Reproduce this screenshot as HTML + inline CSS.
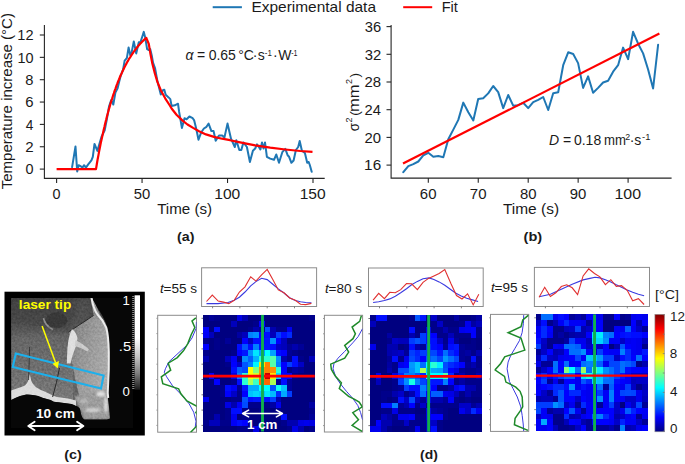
<!DOCTYPE html><html><head><meta charset="utf-8"><title>Figure</title><style>html,body{margin:0;padding:0;background:#fff;overflow:hidden}svg{display:block}text{font-family:"Liberation Sans",sans-serif}</style></head><body>
<svg width="685" height="464" viewBox="0 0 685 464">
<rect width="685" height="464" fill="#fff"/>
<line x1="212.7" y1="7.2" x2="241.9" y2="7.2" stroke="#1f77b4" stroke-width="2"/>
<text x="251.43" y="11.8" font-size="14.2" textLength="124.57" lengthAdjust="spacingAndGlyphs" fill="#1a1a1a">Experimental data</text>
<line x1="403.2" y1="7.2" x2="432.2" y2="7.2" stroke="#ff0000" stroke-width="2"/>
<text x="441.7" y="11.8" font-size="14.2" textLength="16.2" lengthAdjust="spacingAndGlyphs" fill="#1a1a1a">Fit</text>
<path d="M44.4 25 V178.4 H324.7" fill="none" stroke="#262626" stroke-width="1.1"/>
<line x1="39.8" y1="169.10" x2="44.4" y2="169.10" stroke="#262626" stroke-width="1.1"/>
<text x="25.44" y="174.3" font-size="13.8" textLength="8.03" lengthAdjust="spacingAndGlyphs" fill="#1a1a1a">0</text>
<line x1="39.8" y1="146.75" x2="44.4" y2="146.75" stroke="#262626" stroke-width="1.1"/>
<text x="25.24" y="151.95" font-size="13.8" textLength="8.42" lengthAdjust="spacingAndGlyphs" fill="#1a1a1a">2</text>
<line x1="39.8" y1="124.40" x2="44.4" y2="124.40" stroke="#262626" stroke-width="1.1"/>
<text x="25.69" y="129.6" font-size="13.8" textLength="7.62" lengthAdjust="spacingAndGlyphs" fill="#1a1a1a">4</text>
<line x1="39.8" y1="102.05" x2="44.4" y2="102.05" stroke="#262626" stroke-width="1.1"/>
<text x="25.24" y="107.25" font-size="13.8" textLength="8.32" lengthAdjust="spacingAndGlyphs" fill="#1a1a1a">6</text>
<line x1="39.8" y1="79.70" x2="44.4" y2="79.70" stroke="#262626" stroke-width="1.1"/>
<text x="25.36" y="84.9" font-size="13.8" textLength="8.18" lengthAdjust="spacingAndGlyphs" fill="#1a1a1a">8</text>
<line x1="39.8" y1="57.35" x2="44.4" y2="57.35" stroke="#262626" stroke-width="1.1"/>
<text x="17.4" y="62.55" font-size="13.8" textLength="16.06" lengthAdjust="spacingAndGlyphs" fill="#1a1a1a">10</text>
<line x1="39.8" y1="35.00" x2="44.4" y2="35.00" stroke="#262626" stroke-width="1.1"/>
<text x="17.39" y="40.2" font-size="13.8" textLength="16.25" lengthAdjust="spacingAndGlyphs" fill="#1a1a1a">12</text>
<line x1="56.60" y1="178.4" x2="56.60" y2="183" stroke="#262626" stroke-width="1.1"/>
<text x="52.59" y="198.8" font-size="13.8" textLength="8.03" lengthAdjust="spacingAndGlyphs" fill="#1a1a1a">0</text>
<line x1="142.06" y1="178.4" x2="142.06" y2="183" stroke="#262626" stroke-width="1.1"/>
<text x="133.82" y="198.8" font-size="13.8" textLength="16.47" lengthAdjust="spacingAndGlyphs" fill="#1a1a1a">50</text>
<line x1="227.53" y1="178.4" x2="227.53" y2="183" stroke="#262626" stroke-width="1.1"/>
<text x="214.24" y="198.8" font-size="13.8" textLength="26.0" lengthAdjust="spacingAndGlyphs" fill="#1a1a1a">100</text>
<line x1="313.00" y1="178.4" x2="313.00" y2="183" stroke="#262626" stroke-width="1.1"/>
<text x="299.71" y="198.8" font-size="13.8" textLength="26.0" lengthAdjust="spacingAndGlyphs" fill="#1a1a1a">150</text>
<text x="157.16" y="214.3" font-size="14.2" textLength="54.97" lengthAdjust="spacingAndGlyphs" fill="#1a1a1a">Time (s)</text>
<text x="176.99" y="240.6" font-size="12.6" font-weight="bold" textLength="17.42" lengthAdjust="spacingAndGlyphs" fill="#1a1a1a">(a)</text>
<text transform="translate(11.9,189.0) rotate(-90)" x="-0.33" y="0" font-size="14.2" textLength="176.26" lengthAdjust="spacingAndGlyphs" fill="#1a1a1a">Temperature increase (°C)</text>
<text x="185.42" y="60.1" font-size="14" font-style="italic" fill="#1a1a1a">α</text>
<text x="196.92" y="60.1" font-size="14" fill="#1a1a1a">=</text>
<text x="208.65" y="60.1" font-size="14" fill="#1a1a1a">0.65</text>
<text x="238.17" y="60.1" font-size="14" fill="#1a1a1a">°C</text>
<text x="252.64" y="60.1" font-size="14" fill="#1a1a1a">·</text>
<text x="257.81" y="60.1" font-size="14" fill="#1a1a1a">s</text>
<text x="264.85" y="55.8" font-size="8.8" textLength="7.04" lengthAdjust="spacingAndGlyphs" fill="#1a1a1a">-1</text>
<text x="273.04" y="60.1" font-size="14" fill="#1a1a1a">·</text>
<text x="278.14" y="60.1" font-size="14" fill="#1a1a1a">W</text>
<text x="291.19" y="55.8" font-size="8.8" textLength="6.26" lengthAdjust="spacingAndGlyphs" fill="#1a1a1a">-1</text>
<polyline points="72.1,167.2 75.5,146.5 77.2,171.5 78.6,165.2 81.0,166.4 82.4,167.6 84.1,165.2 85.9,167.6 88.4,164.1 91.4,160.3 92.8,156.9 94.5,144.0 97.4,150.9 101.5,136.7 104.7,130.3 106.8,119.5 109.0,106.6 111.1,100.2 113.3,104.5 115.4,92.6 117.6,88.3 119.1,81.9 120.8,75.4 123.0,70.0 124.7,60.4 125.7,59.5 126.9,57.8 128.6,47.4 130.3,55.2 131.6,52.6 133.8,41.4 136.2,53.4 138.8,42.2 140.5,42.0 142.4,36.2 143.8,31.9 145.3,37.9 147.1,49.1 148.8,50.0 150.2,49.1 151.7,55.2 153.1,62.9 155.0,68.0 157.5,81.6 160.8,94.5 162.6,90.5 164.3,89.7 165.7,94.8 168.6,97.4 170.3,99.1 171.6,106.0 174.8,105.3 178.0,103.7 179.1,111.7 181.9,127.9 184.5,118.2 186.6,119.3 189.4,116.5 192.7,118.2 194.2,120.4 196.3,129.0 198.5,139.7 201.3,132.2 203.9,128.5 206.5,126.8 208.6,123.6 211.4,131.1 213.6,131.1 215.7,140.8 219.0,135.4 222.2,135.4 224.4,137.6 227.5,123.6 231.0,138.7 234.8,147.0 236.3,140.2 239.3,150.0 241.3,150.0 243.4,142.4 246.9,147.0 249.9,162.0 252.9,150.7 255.2,148.5 257.0,144.4 258.9,147.0 260.4,149.5 262.0,142.4 263.5,148.5 265.0,142.4 266.9,156.8 270.2,158.6 274.0,159.8 276.3,154.5 279.0,162.8 282.3,152.2 285.3,148.9 287.6,155.2 289.1,156.8 291.4,162.8 293.6,160.5 295.9,150.0 298.2,147.0 299.7,140.9 301.9,150.7 304.9,153.0 307.2,162.8 308.7,162.0 309.8,165.0 311.7,171.8" fill="none" stroke="#1f77b4" stroke-width="2" stroke-linejoin="round" stroke-linecap="round"/>
<polyline points="56.6,169.1 96.0,169.1 96.8,164.2 97.6,159.5 98.5,154.9 99.3,150.4 100.2,146.1 101.0,141.9 101.9,137.9 102.8,134.0 103.6,130.2 104.5,126.6 105.3,123.0 106.2,119.6 107.0,116.2 107.9,113.0 108.7,109.9 109.6,106.9 110.4,104.0 111.3,101.1 112.2,98.4 113.0,95.7 113.9,93.2 114.7,90.7 115.6,88.3 116.4,85.9 117.3,83.7 118.1,81.5 119.0,79.4 119.8,77.3 120.7,75.3 121.6,73.4 122.4,71.6 123.3,69.8 124.1,68.0 125.0,66.3 125.8,64.7 126.7,63.1 127.5,61.6 128.4,60.1 129.2,58.6 130.1,57.3 131.0,55.9 131.8,54.6 132.7,53.3 133.5,52.1 134.4,50.9 135.2,49.8 136.1,48.7 136.9,47.6 137.8,46.6 138.6,45.5 139.5,44.6 140.4,43.6 141.2,42.7 142.1,41.8 142.9,41.0 143.8,40.1 144.6,39.3 145.5,38.5 146.3,37.8 148.8,44.0 150.5,54.3 152.2,62.9 154.8,73.3 157.4,81.9 160.9,90.5 165.2,98.3 169.5,105.0 171.6,108.5 176.5,114.8 182.3,120.4 187.5,124.5 193.1,127.9 199.0,131.2 206.0,134.4 214.0,136.9 222.0,138.7 230.0,140.2 240.1,142.4 255.2,145.4 270.2,147.7 285.3,149.5 300.4,151.0 312.5,151.9" fill="none" stroke="#ff0000" stroke-width="2.2" stroke-linejoin="round"/>
<path d="M391.1 25 V178.1 H671.6" fill="none" stroke="#262626" stroke-width="1.1"/>
<line x1="386.5" y1="165.10" x2="391.1" y2="165.10" stroke="#262626" stroke-width="1.1"/>
<text x="364.13" y="170.3" font-size="13.8" textLength="17.04" lengthAdjust="spacingAndGlyphs" fill="#1a1a1a">16</text>
<line x1="386.5" y1="137.40" x2="391.1" y2="137.40" stroke="#262626" stroke-width="1.1"/>
<text x="364.55" y="142.6" font-size="13.8" textLength="16.53" lengthAdjust="spacingAndGlyphs" fill="#1a1a1a">20</text>
<line x1="386.5" y1="109.70" x2="391.1" y2="109.70" stroke="#262626" stroke-width="1.1"/>
<text x="364.56" y="114.9" font-size="13.8" textLength="16.37" lengthAdjust="spacingAndGlyphs" fill="#1a1a1a">24</text>
<line x1="386.5" y1="82.00" x2="391.1" y2="82.00" stroke="#262626" stroke-width="1.1"/>
<text x="364.55" y="87.2" font-size="13.8" textLength="16.6" lengthAdjust="spacingAndGlyphs" fill="#1a1a1a">28</text>
<line x1="386.5" y1="54.30" x2="391.1" y2="54.30" stroke="#262626" stroke-width="1.1"/>
<text x="364.73" y="59.5" font-size="13.8" textLength="16.51" lengthAdjust="spacingAndGlyphs" fill="#1a1a1a">32</text>
<line x1="386.5" y1="26.60" x2="391.1" y2="26.60" stroke="#262626" stroke-width="1.1"/>
<text x="364.74" y="31.8" font-size="13.8" textLength="16.41" lengthAdjust="spacingAndGlyphs" fill="#1a1a1a">36</text>
<line x1="428.30" y1="178.1" x2="428.30" y2="182.7" stroke="#262626" stroke-width="1.1"/>
<text x="419.89" y="198.8" font-size="13.8" textLength="16.64" lengthAdjust="spacingAndGlyphs" fill="#1a1a1a">60</text>
<line x1="478.25" y1="178.1" x2="478.25" y2="182.7" stroke="#262626" stroke-width="1.1"/>
<text x="469.83" y="198.8" font-size="13.8" textLength="16.65" lengthAdjust="spacingAndGlyphs" fill="#1a1a1a">70</text>
<line x1="528.20" y1="178.1" x2="528.20" y2="182.7" stroke="#262626" stroke-width="1.1"/>
<text x="519.9" y="198.8" font-size="13.8" textLength="16.53" lengthAdjust="spacingAndGlyphs" fill="#1a1a1a">80</text>
<line x1="578.15" y1="178.1" x2="578.15" y2="182.7" stroke="#262626" stroke-width="1.1"/>
<text x="569.8" y="198.8" font-size="13.8" textLength="16.58" lengthAdjust="spacingAndGlyphs" fill="#1a1a1a">90</text>
<line x1="628.10" y1="178.1" x2="628.10" y2="182.7" stroke="#262626" stroke-width="1.1"/>
<text x="614.54" y="198.8" font-size="13.8" textLength="26.53" lengthAdjust="spacingAndGlyphs" fill="#1a1a1a">100</text>
<text x="502.96" y="214.0" font-size="14.2" textLength="56.09" lengthAdjust="spacingAndGlyphs" fill="#1a1a1a">Time (s)</text>
<text x="523.57" y="240.9" font-size="12.6" font-weight="bold" textLength="18.66" lengthAdjust="spacingAndGlyphs" fill="#1a1a1a">(b)</text>
<g transform="translate(358.6,131.2) rotate(-90)">
<text x="-0.05" y="0" font-size="14.2" textLength="8.15" lengthAdjust="spacingAndGlyphs" fill="#1a1a1a">σ</text>
<text x="8.65" y="-6.4" font-size="9.0" fill="#1a1a1a">2</text>
<text x="15.36" y="0" font-size="13.6" fill="#1a1a1a">(</text>
<text x="19.3" y="0" font-size="14.2" textLength="27.48" lengthAdjust="spacingAndGlyphs" fill="#1a1a1a">mm</text>
<text x="47.15" y="-6.4" font-size="9.0" fill="#1a1a1a">2</text>
<text x="53.82" y="0" font-size="13.6" fill="#1a1a1a">)</text>
</g>
<text x="548.97" y="144.6" font-size="14" font-style="italic" fill="#1a1a1a">D</text>
<text x="563.02" y="144.6" font-size="14" fill="#1a1a1a">=</text>
<text x="573.95" y="144.6" font-size="14" fill="#1a1a1a">0.18</text>
<text x="603.93" y="144.6" font-size="14" textLength="21.94" lengthAdjust="spacingAndGlyphs" fill="#1a1a1a">mm</text>
<text x="625.36" y="140.3" font-size="8.8" fill="#1a1a1a">2</text>
<text x="629.64" y="144.6" font-size="14" fill="#1a1a1a">·</text>
<text x="634.21" y="144.6" font-size="14" fill="#1a1a1a">s</text>
<text x="642.08" y="140.3" font-size="8.8" textLength="8.38" lengthAdjust="spacingAndGlyphs" fill="#1a1a1a">-1</text>
<polyline points="403.3,172.2 408.3,166.2 413.3,164.1 418.3,161.5 423.3,155.4 428.3,152.8 433.3,156.7 438.3,156.1 443.3,157.2 448.3,139.3 453.3,129.6 458.3,119.9 463.3,102.6 468.3,112.3 473.3,120.5 478.2,99.0 483.2,98.3 488.2,93.4 493.2,86.0 498.2,92.1 503.2,108.1 508.2,95.0 513.2,105.7 518.2,105.2 523.2,102.8 528.2,108.1 533.2,102.1 538.2,99.9 543.2,97.0 548.2,110.0 553.2,93.2 558.2,92.2 563.2,65.2 568.2,52.3 573.2,54.0 578.1,63.1 583.1,87.9 588.1,76.4 593.1,92.8 598.1,87.9 603.1,82.5 608.1,80.7 613.1,71.7 618.1,65.2 623.1,47.6 628.1,59.2 633.1,31.8 638.1,43.7 643.1,53.4 648.1,69.5 653.1,88.5 658.1,44.8" fill="none" stroke="#1f77b4" stroke-width="2" stroke-linejoin="round" stroke-linecap="round"/>
<line x1="403.0" y1="163.6" x2="659.4" y2="33.6" stroke="#ff0000" stroke-width="2.2"/>
<rect x="4.5" y="291.7" width="140.3" height="143.8" fill="#000"/>
<defs><filter id="nz" x="0" y="0" width="100%" height="100%" color-interpolation-filters="sRGB"><feTurbulence type="fractalNoise" baseFrequency="0.45" numOctaves="2" seed="7"/><feColorMatrix type="matrix" values="1 0 0 0 0  1 0 0 0 0  1 0 0 0 0  0 0 0 0 1"/></filter><filter id="hblur" x="0" y="0" width="1" height="1"><feGaussianBlur stdDeviation="0.45" edgeMode="duplicate"/></filter><filter id="blur1"><feGaussianBlur stdDeviation="1.2"/></filter><filter id="blur05"><feGaussianBlur stdDeviation="0.4"/></filter><filter id="blur2"><feGaussianBlur stdDeviation="2.5"/></filter><linearGradient id="cbg" x1="0" y1="0" x2="0" y2="1"><stop offset="0" stop-color="#fff"/><stop offset="0.45" stop-color="#fff"/><stop offset="0.65" stop-color="#c4c4c4"/><stop offset="0.82" stop-color="#808080"/><stop offset="1" stop-color="#1a1a1a"/></linearGradient><linearGradient id="topdark" x1="0" y1="0" x2="0" y2="1"><stop offset="0" stop-color="#000" stop-opacity="0.45"/><stop offset="0.5" stop-color="#000" stop-opacity="0.3"/><stop offset="1" stop-color="#000" stop-opacity="0"/></linearGradient><linearGradient id="lowlight" x1="0" y1="0" x2="0" y2="1"><stop offset="0" stop-color="#fff" stop-opacity="0"/><stop offset="1" stop-color="#fff" stop-opacity="0.14"/></linearGradient><linearGradient id="rmus" x1="0" y1="0" x2="1" y2="0.6"><stop offset="0" stop-color="#7c7c7c"/><stop offset="0.5" stop-color="#979797"/><stop offset="1" stop-color="#acacac"/></linearGradient></defs>
<rect x="11" y="298" width="122" height="130" fill="#070707"/>
<clipPath id="tclip"><path d="M11 298 L91.7 298 C95 303 98.8 310 101.5 314 C105 320 107.5 326 108.3 331.3 C109.3 340 109.5 350 109.5 358 C109.5 370 109 380 108.4 386 C107.5 390 106.8 392 107.5 395 C108.5 402 109.5 410 110 418.6 L106.8 419.4 L84.3 419.4 C82.5 418.6 81.6 416 81.1 414.5 C80.5 411 80 409 79.5 408.1 C78 406.5 76.5 406 75.5 405.7 C73.5 404.8 72 404.3 71.4 404.1 L60.2 402.5 L53.8 401.7 C52.5 401 51.5 400.4 50.6 400.1 L42.5 397.7 C39.5 396.5 37 395.6 34.5 395.3 C31.5 394.7 29 394.4 26.5 394.5 C24 395 22 395.5 20.1 396.1 C16.5 397.5 13.5 399 11.2 400.1 Z"/></clipPath>
<g clip-path="url(#tclip)">
<path d="M11 298 L91.7 298 C95 303 98.8 310 101.5 314 C105 320 107.5 326 108.3 331.3 C109.3 340 109.5 350 109.5 358 C109.5 370 109 380 108.4 386 C107.5 390 106.8 392 107.5 395 C108.5 402 109.5 410 110 418.6 L106.8 419.4 L84.3 419.4 C82.5 418.6 81.6 416 81.1 414.5 C80.5 411 80 409 79.5 408.1 C78 406.5 76.5 406 75.5 405.7 C73.5 404.8 72 404.3 71.4 404.1 L60.2 402.5 L53.8 401.7 C52.5 401 51.5 400.4 50.6 400.1 L42.5 397.7 C39.5 396.5 37 395.6 34.5 395.3 C31.5 394.7 29 394.4 26.5 394.5 C24 395 22 395.5 20.1 396.1 C16.5 397.5 13.5 399 11.2 400.1 Z" fill="#636363"/>
<rect x="11" y="330" width="62" height="72" fill="url(#lowlight)"/>
<rect x="11" y="298" width="100" height="40" fill="url(#topdark)"/>
<g filter="url(#blur2)"><path d="M11 298 H74 L76 312 L69 331.5 L60 331 L45 328 L30 324 L11 321 Z" fill="#464646" opacity="0.7"/><path d="M74 298 H91.5 L93.5 312 L93.6 315.5 L69 331.5 L76 312 Z" fill="#545454" opacity="0.7"/></g>
<g filter="url(#blur05)"><ellipse cx="56.6" cy="320.2" rx="10.8" ry="8" fill="#383838"/></g>
<path d="M43.5 318 Q45 326 53 329.5" fill="none" stroke="#8a8a8a" stroke-width="1.6" filter="url(#blur05)"/>
<g filter="url(#blur05)"><path d="M90.5 298 H93 Q96 306 101.7 318 L93.6 315.5 Q92 306 90.5 298 Z" fill="#8e8e8e"/></g>
<g filter="url(#blur05)"><path d="M69 331.5 L93.6 315.5 L101.7 317.8 Q105 323 107.5 333 Q108.5 345 108.5 360 Q108.3 378 107 392 Q95 396 80 399 Q75 380 72 362 Q70 345 69 331.5 Z" fill="url(#rmus)"/></g>
<path d="M68.5 332 L93.6 315.5" fill="none" stroke="#2a2a2a" stroke-width="1"/>
<g filter="url(#blur1)"><path d="M75 396 Q92 392 108 390 L110 419.4 L84 419.4 Q81 412 79 407 Q77 402 75 400 Z" fill="#9c9c9c"/><ellipse cx="101" cy="394" rx="4.5" ry="2.5" fill="#e0e0e0"/><ellipse cx="93" cy="410" rx="8" ry="2" fill="#cfcfcf"/><ellipse cx="106" cy="405" rx="2" ry="8" fill="#d8d8d8"/><ellipse cx="84" cy="401" rx="4" ry="1.5" fill="#c0c0c0"/></g>
<g filter="url(#blur05)" opacity="0.95"><path d="M72 329 Q76 332 77.5 338 Q77 345 74.5 350 Q72 356 70.5 363.5 L66.8 363.5 Q67 355 67.5 348 Q68 338 72 329 Z" fill="#e4e4e4"/><path d="M75.5 340 Q82 343 89 349.5 L87.5 351.5 Q81 347.5 75 346 Z" fill="#cdcdcd"/></g>
<path d="M11 390.5 C14 389.5 16 388.7 18.5 388 C21 387.2 23 386.5 24.9 385.6 C26.5 384 27.5 382.5 28.1 380.8 L29.7 374 L31.3 380.8 C32.5 383.5 34 385.5 36.1 387.2 C39 389.2 41.5 390.2 44.1 391.3 C47 392.6 49.5 394 52.2 395.3 L57 396.9 L68.2 398.5 L76 400.5 L76 406 L71.4 404.1 L60.2 402.5 L53.8 401.7 L50.6 400.1 L42.5 397.7 L34.5 395.3 L26.5 394.5 L20.1 396.1 L11.2 400.1 Z" fill="#dcdcdc"/>
<path d="M59.5 368 Q57 382 52.6 397" fill="none" stroke="#1e1e1e" stroke-width="0.9"/>
<path d="M28.6 380 Q29.2 362 29.6 347" fill="none" stroke="#333" stroke-width="0.9"/>
<rect x="11" y="298" width="100" height="122" filter="url(#nz)" opacity="0.22" style="mix-blend-mode:overlay"/>
</g>
<path d="M91.6 298.2 C92.6 304 94 310 97.5 314.5 C101 318 104 322 106.2 327.5 C108 334 108.6 342 108.8 352 C109 365 108.6 378 108 387 C107.6 391 107.6 394 108.2 398" fill="none" stroke="#ececec" stroke-width="2" filter="url(#blur05)"/>
<rect x="134.6" y="295.3" width="5.4" height="94.5" fill="url(#cbg)"/>
<line x1="133.3" y1="296" x2="133.3" y2="389" stroke="#8a8a8a" stroke-width="2.2" stroke-dasharray="0.9 1.1"/>
<text x="122.59" y="304.8" font-size="13.2" fill="#fff">1</text>
<text x="118.86" y="350.5" font-size="13.2" textLength="12.26" lengthAdjust="spacingAndGlyphs" fill="#fff">.5</text>
<text x="122.48" y="395.7" font-size="13.2" fill="#fff">0</text>
<polygon points="15.8,353.5 103.6,375.5 101,388.5 12.8,367" fill="none" stroke="#1cb0ec" stroke-width="2.1" stroke-linejoin="miter"/>
<line x1="42.1" y1="325.9" x2="55.6" y2="362.8" stroke="#ffff00" stroke-width="1.5"/>
<polygon points="57.8,368.6 52.5,363.7 59,360.9" fill="#ffff00"/>
<text x="18.85" y="309.1" font-size="13.0" font-weight="bold" textLength="52.41" lengthAdjust="spacingAndGlyphs" fill="#ffff00">laser tip</text>
<text x="35.94" y="418.2" font-size="12.2" font-weight="bold" textLength="38.92" lengthAdjust="spacingAndGlyphs" fill="#fff">10 cm</text>
<path d="M28.5 426 H83.2 M34.6 421.8 L28.3 426 L34.6 430.2 M77.1 421.8 L83.4 426 L77.1 430.2" fill="none" stroke="#fff" stroke-width="1.9" stroke-linecap="round" stroke-linejoin="round"/>
<text x="64.18" y="459.1" font-size="12.6" font-weight="bold" textLength="17.64" lengthAdjust="spacingAndGlyphs" fill="#1a1a1a">(c)</text>
<g shape-rendering="crispEdges" filter="url(#hblur)">
<rect x="203.10" y="314.90" width="5.88" height="6.13" fill="#000080"/>
<rect x="208.69" y="314.90" width="5.88" height="6.13" fill="#000097"/>
<rect x="214.27" y="314.90" width="5.88" height="6.13" fill="#00008b"/>
<rect x="219.85" y="314.90" width="5.88" height="6.13" fill="#000080"/>
<rect x="225.44" y="314.90" width="5.88" height="6.13" fill="#000080"/>
<rect x="231.03" y="314.90" width="5.88" height="6.13" fill="#000080"/>
<rect x="236.61" y="314.90" width="5.88" height="6.13" fill="#0000e5"/>
<rect x="242.19" y="314.90" width="5.88" height="6.13" fill="#0000af"/>
<rect x="247.78" y="314.90" width="5.88" height="6.13" fill="#000080"/>
<rect x="253.37" y="314.90" width="5.88" height="6.13" fill="#000080"/>
<rect x="258.95" y="314.90" width="5.88" height="6.13" fill="#00008b"/>
<rect x="264.53" y="314.90" width="5.88" height="6.13" fill="#000080"/>
<rect x="270.12" y="314.90" width="5.88" height="6.13" fill="#000080"/>
<rect x="275.70" y="314.90" width="5.88" height="6.13" fill="#000080"/>
<rect x="281.29" y="314.90" width="5.88" height="6.13" fill="#000080"/>
<rect x="286.88" y="314.90" width="5.88" height="6.13" fill="#000080"/>
<rect x="292.46" y="314.90" width="5.88" height="6.13" fill="#000080"/>
<rect x="298.04" y="314.90" width="5.88" height="6.13" fill="#000080"/>
<rect x="303.63" y="314.90" width="5.88" height="6.13" fill="#000080"/>
<rect x="309.21" y="314.90" width="5.88" height="6.13" fill="#00008b"/>
<rect x="203.10" y="320.73" width="5.88" height="6.13" fill="#000080"/>
<rect x="208.69" y="320.73" width="5.88" height="6.13" fill="#000080"/>
<rect x="214.27" y="320.73" width="5.88" height="6.13" fill="#000080"/>
<rect x="219.85" y="320.73" width="5.88" height="6.13" fill="#000080"/>
<rect x="225.44" y="320.73" width="5.88" height="6.13" fill="#000080"/>
<rect x="231.03" y="320.73" width="5.88" height="6.13" fill="#0000bb"/>
<rect x="236.61" y="320.73" width="5.88" height="6.13" fill="#000080"/>
<rect x="242.19" y="320.73" width="5.88" height="6.13" fill="#000080"/>
<rect x="247.78" y="320.73" width="5.88" height="6.13" fill="#000080"/>
<rect x="253.37" y="320.73" width="5.88" height="6.13" fill="#00008b"/>
<rect x="258.95" y="320.73" width="5.88" height="6.13" fill="#0000ff"/>
<rect x="264.53" y="320.73" width="5.88" height="6.13" fill="#000080"/>
<rect x="270.12" y="320.73" width="5.88" height="6.13" fill="#000080"/>
<rect x="275.70" y="320.73" width="5.88" height="6.13" fill="#000080"/>
<rect x="281.29" y="320.73" width="5.88" height="6.13" fill="#000080"/>
<rect x="286.88" y="320.73" width="5.88" height="6.13" fill="#000080"/>
<rect x="292.46" y="320.73" width="5.88" height="6.13" fill="#000080"/>
<rect x="298.04" y="320.73" width="5.88" height="6.13" fill="#000080"/>
<rect x="303.63" y="320.73" width="5.88" height="6.13" fill="#000080"/>
<rect x="309.21" y="320.73" width="5.88" height="6.13" fill="#000080"/>
<rect x="203.10" y="326.56" width="5.88" height="6.13" fill="#0000ff"/>
<rect x="208.69" y="326.56" width="5.88" height="6.13" fill="#000080"/>
<rect x="214.27" y="326.56" width="5.88" height="6.13" fill="#0008ff"/>
<rect x="219.85" y="326.56" width="5.88" height="6.13" fill="#000080"/>
<rect x="225.44" y="326.56" width="5.88" height="6.13" fill="#000080"/>
<rect x="231.03" y="326.56" width="5.88" height="6.13" fill="#000080"/>
<rect x="236.61" y="326.56" width="5.88" height="6.13" fill="#000080"/>
<rect x="242.19" y="326.56" width="5.88" height="6.13" fill="#000080"/>
<rect x="247.78" y="326.56" width="5.88" height="6.13" fill="#00008b"/>
<rect x="253.37" y="326.56" width="5.88" height="6.13" fill="#0000af"/>
<rect x="258.95" y="326.56" width="5.88" height="6.13" fill="#000097"/>
<rect x="264.53" y="326.56" width="5.88" height="6.13" fill="#004cff"/>
<rect x="270.12" y="326.56" width="5.88" height="6.13" fill="#0000af"/>
<rect x="275.70" y="326.56" width="5.88" height="6.13" fill="#00008b"/>
<rect x="281.29" y="326.56" width="5.88" height="6.13" fill="#00008b"/>
<rect x="286.88" y="326.56" width="5.88" height="6.13" fill="#0000ee"/>
<rect x="292.46" y="326.56" width="5.88" height="6.13" fill="#000080"/>
<rect x="298.04" y="326.56" width="5.88" height="6.13" fill="#000080"/>
<rect x="303.63" y="326.56" width="5.88" height="6.13" fill="#000080"/>
<rect x="309.21" y="326.56" width="5.88" height="6.13" fill="#000080"/>
<rect x="203.10" y="332.39" width="5.88" height="6.13" fill="#0000f6"/>
<rect x="208.69" y="332.39" width="5.88" height="6.13" fill="#0000bb"/>
<rect x="214.27" y="332.39" width="5.88" height="6.13" fill="#000080"/>
<rect x="219.85" y="332.39" width="5.88" height="6.13" fill="#000080"/>
<rect x="225.44" y="332.39" width="5.88" height="6.13" fill="#000080"/>
<rect x="231.03" y="332.39" width="5.88" height="6.13" fill="#000080"/>
<rect x="236.61" y="332.39" width="5.88" height="6.13" fill="#0000a3"/>
<rect x="242.19" y="332.39" width="5.88" height="6.13" fill="#0000bb"/>
<rect x="247.78" y="332.39" width="5.88" height="6.13" fill="#0080ff"/>
<rect x="253.37" y="332.39" width="5.88" height="6.13" fill="#0090ff"/>
<rect x="258.95" y="332.39" width="5.88" height="6.13" fill="#0000ff"/>
<rect x="264.53" y="332.39" width="5.88" height="6.13" fill="#0008ff"/>
<rect x="270.12" y="332.39" width="5.88" height="6.13" fill="#0000bb"/>
<rect x="275.70" y="332.39" width="5.88" height="6.13" fill="#003cff"/>
<rect x="281.29" y="332.39" width="5.88" height="6.13" fill="#0008ff"/>
<rect x="286.88" y="332.39" width="5.88" height="6.13" fill="#002aff"/>
<rect x="292.46" y="332.39" width="5.88" height="6.13" fill="#000080"/>
<rect x="298.04" y="332.39" width="5.88" height="6.13" fill="#000080"/>
<rect x="303.63" y="332.39" width="5.88" height="6.13" fill="#000080"/>
<rect x="309.21" y="332.39" width="5.88" height="6.13" fill="#000080"/>
<rect x="203.10" y="338.22" width="5.88" height="6.13" fill="#00008b"/>
<rect x="208.69" y="338.22" width="5.88" height="6.13" fill="#000080"/>
<rect x="214.27" y="338.22" width="5.88" height="6.13" fill="#00008b"/>
<rect x="219.85" y="338.22" width="5.88" height="6.13" fill="#000080"/>
<rect x="225.44" y="338.22" width="5.88" height="6.13" fill="#000097"/>
<rect x="231.03" y="338.22" width="5.88" height="6.13" fill="#000080"/>
<rect x="236.61" y="338.22" width="5.88" height="6.13" fill="#000080"/>
<rect x="242.19" y="338.22" width="5.88" height="6.13" fill="#0000ff"/>
<rect x="247.78" y="338.22" width="5.88" height="6.13" fill="#0000bb"/>
<rect x="253.37" y="338.22" width="5.88" height="6.13" fill="#0011ff"/>
<rect x="258.95" y="338.22" width="5.88" height="6.13" fill="#0008ff"/>
<rect x="264.53" y="338.22" width="5.88" height="6.13" fill="#0019ff"/>
<rect x="270.12" y="338.22" width="5.88" height="6.13" fill="#0090ff"/>
<rect x="275.70" y="338.22" width="5.88" height="6.13" fill="#0000ff"/>
<rect x="281.29" y="338.22" width="5.88" height="6.13" fill="#0000bb"/>
<rect x="286.88" y="338.22" width="5.88" height="6.13" fill="#000080"/>
<rect x="292.46" y="338.22" width="5.88" height="6.13" fill="#000080"/>
<rect x="298.04" y="338.22" width="5.88" height="6.13" fill="#000080"/>
<rect x="303.63" y="338.22" width="5.88" height="6.13" fill="#000080"/>
<rect x="309.21" y="338.22" width="5.88" height="6.13" fill="#000080"/>
<rect x="203.10" y="344.05" width="5.88" height="6.13" fill="#0000ff"/>
<rect x="208.69" y="344.05" width="5.88" height="6.13" fill="#000080"/>
<rect x="214.27" y="344.05" width="5.88" height="6.13" fill="#00008b"/>
<rect x="219.85" y="344.05" width="5.88" height="6.13" fill="#000080"/>
<rect x="225.44" y="344.05" width="5.88" height="6.13" fill="#000080"/>
<rect x="231.03" y="344.05" width="5.88" height="6.13" fill="#000080"/>
<rect x="236.61" y="344.05" width="5.88" height="6.13" fill="#0008ff"/>
<rect x="242.19" y="344.05" width="5.88" height="6.13" fill="#0055ff"/>
<rect x="247.78" y="344.05" width="5.88" height="6.13" fill="#0008ff"/>
<rect x="253.37" y="344.05" width="5.88" height="6.13" fill="#0080ff"/>
<rect x="258.95" y="344.05" width="5.88" height="6.13" fill="#0019ff"/>
<rect x="264.53" y="344.05" width="5.88" height="6.13" fill="#0019ff"/>
<rect x="270.12" y="344.05" width="5.88" height="6.13" fill="#0008ff"/>
<rect x="275.70" y="344.05" width="5.88" height="6.13" fill="#0000c7"/>
<rect x="281.29" y="344.05" width="5.88" height="6.13" fill="#0000bb"/>
<rect x="286.88" y="344.05" width="5.88" height="6.13" fill="#000097"/>
<rect x="292.46" y="344.05" width="5.88" height="6.13" fill="#0000af"/>
<rect x="298.04" y="344.05" width="5.88" height="6.13" fill="#000097"/>
<rect x="303.63" y="344.05" width="5.88" height="6.13" fill="#000080"/>
<rect x="309.21" y="344.05" width="5.88" height="6.13" fill="#000080"/>
<rect x="203.10" y="349.88" width="5.88" height="6.13" fill="#00008b"/>
<rect x="208.69" y="349.88" width="5.88" height="6.13" fill="#000080"/>
<rect x="214.27" y="349.88" width="5.88" height="6.13" fill="#000080"/>
<rect x="219.85" y="349.88" width="5.88" height="6.13" fill="#000080"/>
<rect x="225.44" y="349.88" width="5.88" height="6.13" fill="#000080"/>
<rect x="231.03" y="349.88" width="5.88" height="6.13" fill="#00008b"/>
<rect x="236.61" y="349.88" width="5.88" height="6.13" fill="#0000ff"/>
<rect x="242.19" y="349.88" width="5.88" height="6.13" fill="#0019ff"/>
<rect x="247.78" y="349.88" width="5.88" height="6.13" fill="#0090ff"/>
<rect x="253.37" y="349.88" width="5.88" height="6.13" fill="#00e6ff"/>
<rect x="258.95" y="349.88" width="5.88" height="6.13" fill="#0099ff"/>
<rect x="264.53" y="349.88" width="5.88" height="6.13" fill="#00ffff"/>
<rect x="270.12" y="349.88" width="5.88" height="6.13" fill="#00a2ff"/>
<rect x="275.70" y="349.88" width="5.88" height="6.13" fill="#0008ff"/>
<rect x="281.29" y="349.88" width="5.88" height="6.13" fill="#0000ff"/>
<rect x="286.88" y="349.88" width="5.88" height="6.13" fill="#000097"/>
<rect x="292.46" y="349.88" width="5.88" height="6.13" fill="#00008b"/>
<rect x="298.04" y="349.88" width="5.88" height="6.13" fill="#000080"/>
<rect x="303.63" y="349.88" width="5.88" height="6.13" fill="#000080"/>
<rect x="309.21" y="349.88" width="5.88" height="6.13" fill="#000080"/>
<rect x="203.10" y="355.71" width="5.88" height="6.13" fill="#0000af"/>
<rect x="208.69" y="355.71" width="5.88" height="6.13" fill="#000080"/>
<rect x="214.27" y="355.71" width="5.88" height="6.13" fill="#000080"/>
<rect x="219.85" y="355.71" width="5.88" height="6.13" fill="#000080"/>
<rect x="225.44" y="355.71" width="5.88" height="6.13" fill="#0000bb"/>
<rect x="231.03" y="355.71" width="5.88" height="6.13" fill="#0000f6"/>
<rect x="236.61" y="355.71" width="5.88" height="6.13" fill="#00008b"/>
<rect x="242.19" y="355.71" width="5.88" height="6.13" fill="#0090ff"/>
<rect x="247.78" y="355.71" width="5.88" height="6.13" fill="#005eff"/>
<rect x="253.37" y="355.71" width="5.88" height="6.13" fill="#00b2ff"/>
<rect x="258.95" y="355.71" width="5.88" height="6.13" fill="#2bffd4"/>
<rect x="264.53" y="355.71" width="5.88" height="6.13" fill="#2bffd4"/>
<rect x="270.12" y="355.71" width="5.88" height="6.13" fill="#55ffaa"/>
<rect x="275.70" y="355.71" width="5.88" height="6.13" fill="#0090ff"/>
<rect x="281.29" y="355.71" width="5.88" height="6.13" fill="#0000af"/>
<rect x="286.88" y="355.71" width="5.88" height="6.13" fill="#00008b"/>
<rect x="292.46" y="355.71" width="5.88" height="6.13" fill="#0008ff"/>
<rect x="298.04" y="355.71" width="5.88" height="6.13" fill="#00008b"/>
<rect x="303.63" y="355.71" width="5.88" height="6.13" fill="#000080"/>
<rect x="309.21" y="355.71" width="5.88" height="6.13" fill="#0000bb"/>
<rect x="203.10" y="361.54" width="5.88" height="6.13" fill="#000080"/>
<rect x="208.69" y="361.54" width="5.88" height="6.13" fill="#000080"/>
<rect x="214.27" y="361.54" width="5.88" height="6.13" fill="#000080"/>
<rect x="219.85" y="361.54" width="5.88" height="6.13" fill="#000080"/>
<rect x="225.44" y="361.54" width="5.88" height="6.13" fill="#00008b"/>
<rect x="231.03" y="361.54" width="5.88" height="6.13" fill="#0000ff"/>
<rect x="236.61" y="361.54" width="5.88" height="6.13" fill="#0000c7"/>
<rect x="242.19" y="361.54" width="5.88" height="6.13" fill="#0055ff"/>
<rect x="247.78" y="361.54" width="5.88" height="6.13" fill="#0080ff"/>
<rect x="253.37" y="361.54" width="5.88" height="6.13" fill="#00f7ff"/>
<rect x="258.95" y="361.54" width="5.88" height="6.13" fill="#ffe500"/>
<rect x="264.53" y="361.54" width="5.88" height="6.13" fill="#ff8000"/>
<rect x="270.12" y="361.54" width="5.88" height="6.13" fill="#55ffaa"/>
<rect x="275.70" y="361.54" width="5.88" height="6.13" fill="#0080ff"/>
<rect x="281.29" y="361.54" width="5.88" height="6.13" fill="#0000ff"/>
<rect x="286.88" y="361.54" width="5.88" height="6.13" fill="#003cff"/>
<rect x="292.46" y="361.54" width="5.88" height="6.13" fill="#0008ff"/>
<rect x="298.04" y="361.54" width="5.88" height="6.13" fill="#0000c7"/>
<rect x="303.63" y="361.54" width="5.88" height="6.13" fill="#000080"/>
<rect x="309.21" y="361.54" width="5.88" height="6.13" fill="#000080"/>
<rect x="203.10" y="367.37" width="5.88" height="6.13" fill="#000080"/>
<rect x="208.69" y="367.37" width="5.88" height="6.13" fill="#000080"/>
<rect x="214.27" y="367.37" width="5.88" height="6.13" fill="#000080"/>
<rect x="219.85" y="367.37" width="5.88" height="6.13" fill="#000080"/>
<rect x="225.44" y="367.37" width="5.88" height="6.13" fill="#000080"/>
<rect x="231.03" y="367.37" width="5.88" height="6.13" fill="#0008ff"/>
<rect x="236.61" y="367.37" width="5.88" height="6.13" fill="#005eff"/>
<rect x="242.19" y="367.37" width="5.88" height="6.13" fill="#004cff"/>
<rect x="247.78" y="367.37" width="5.88" height="6.13" fill="#ffff00"/>
<rect x="253.37" y="367.37" width="5.88" height="6.13" fill="#80ff80"/>
<rect x="258.95" y="367.37" width="5.88" height="6.13" fill="#ff9000"/>
<rect x="264.53" y="367.37" width="5.88" height="6.13" fill="#ff8000"/>
<rect x="270.12" y="367.37" width="5.88" height="6.13" fill="#ff9000"/>
<rect x="275.70" y="367.37" width="5.88" height="6.13" fill="#2bffd4"/>
<rect x="281.29" y="367.37" width="5.88" height="6.13" fill="#0000ff"/>
<rect x="286.88" y="367.37" width="5.88" height="6.13" fill="#00008b"/>
<rect x="292.46" y="367.37" width="5.88" height="6.13" fill="#0000a3"/>
<rect x="298.04" y="367.37" width="5.88" height="6.13" fill="#000097"/>
<rect x="303.63" y="367.37" width="5.88" height="6.13" fill="#000080"/>
<rect x="309.21" y="367.37" width="5.88" height="6.13" fill="#000080"/>
<rect x="203.10" y="373.20" width="5.88" height="6.13" fill="#000080"/>
<rect x="208.69" y="373.20" width="5.88" height="6.13" fill="#0000ff"/>
<rect x="214.27" y="373.20" width="5.88" height="6.13" fill="#000080"/>
<rect x="219.85" y="373.20" width="5.88" height="6.13" fill="#000080"/>
<rect x="225.44" y="373.20" width="5.88" height="6.13" fill="#000080"/>
<rect x="231.03" y="373.20" width="5.88" height="6.13" fill="#0000e5"/>
<rect x="236.61" y="373.20" width="5.88" height="6.13" fill="#0080ff"/>
<rect x="242.19" y="373.20" width="5.88" height="6.13" fill="#2bffd4"/>
<rect x="247.78" y="373.20" width="5.88" height="6.13" fill="#ffff00"/>
<rect x="253.37" y="373.20" width="5.88" height="6.13" fill="#d5ff2a"/>
<rect x="258.95" y="373.20" width="5.88" height="6.13" fill="#ff8000"/>
<rect x="264.53" y="373.20" width="5.88" height="6.13" fill="#c40000"/>
<rect x="270.12" y="373.20" width="5.88" height="6.13" fill="#ffe500"/>
<rect x="275.70" y="373.20" width="5.88" height="6.13" fill="#00d4ff"/>
<rect x="281.29" y="373.20" width="5.88" height="6.13" fill="#0000ff"/>
<rect x="286.88" y="373.20" width="5.88" height="6.13" fill="#0000ff"/>
<rect x="292.46" y="373.20" width="5.88" height="6.13" fill="#00008b"/>
<rect x="298.04" y="373.20" width="5.88" height="6.13" fill="#000080"/>
<rect x="303.63" y="373.20" width="5.88" height="6.13" fill="#000080"/>
<rect x="309.21" y="373.20" width="5.88" height="6.13" fill="#000080"/>
<rect x="203.10" y="379.03" width="5.88" height="6.13" fill="#000080"/>
<rect x="208.69" y="379.03" width="5.88" height="6.13" fill="#000080"/>
<rect x="214.27" y="379.03" width="5.88" height="6.13" fill="#0000ff"/>
<rect x="219.85" y="379.03" width="5.88" height="6.13" fill="#000080"/>
<rect x="225.44" y="379.03" width="5.88" height="6.13" fill="#000080"/>
<rect x="231.03" y="379.03" width="5.88" height="6.13" fill="#00008b"/>
<rect x="236.61" y="379.03" width="5.88" height="6.13" fill="#0008ff"/>
<rect x="242.19" y="379.03" width="5.88" height="6.13" fill="#2bffd4"/>
<rect x="247.78" y="379.03" width="5.88" height="6.13" fill="#aaff55"/>
<rect x="253.37" y="379.03" width="5.88" height="6.13" fill="#3cffc3"/>
<rect x="258.95" y="379.03" width="5.88" height="6.13" fill="#ff6f00"/>
<rect x="264.53" y="379.03" width="5.88" height="6.13" fill="#ff6600"/>
<rect x="270.12" y="379.03" width="5.88" height="6.13" fill="#aaff55"/>
<rect x="275.70" y="379.03" width="5.88" height="6.13" fill="#000097"/>
<rect x="281.29" y="379.03" width="5.88" height="6.13" fill="#0008ff"/>
<rect x="286.88" y="379.03" width="5.88" height="6.13" fill="#000097"/>
<rect x="292.46" y="379.03" width="5.88" height="6.13" fill="#000080"/>
<rect x="298.04" y="379.03" width="5.88" height="6.13" fill="#000080"/>
<rect x="303.63" y="379.03" width="5.88" height="6.13" fill="#000080"/>
<rect x="309.21" y="379.03" width="5.88" height="6.13" fill="#000080"/>
<rect x="203.10" y="384.86" width="5.88" height="6.13" fill="#000080"/>
<rect x="208.69" y="384.86" width="5.88" height="6.13" fill="#000080"/>
<rect x="214.27" y="384.86" width="5.88" height="6.13" fill="#000080"/>
<rect x="219.85" y="384.86" width="5.88" height="6.13" fill="#00008b"/>
<rect x="225.44" y="384.86" width="5.88" height="6.13" fill="#0008ff"/>
<rect x="231.03" y="384.86" width="5.88" height="6.13" fill="#0000f6"/>
<rect x="236.61" y="384.86" width="5.88" height="6.13" fill="#000097"/>
<rect x="242.19" y="384.86" width="5.88" height="6.13" fill="#0019ff"/>
<rect x="247.78" y="384.86" width="5.88" height="6.13" fill="#00aaff"/>
<rect x="253.37" y="384.86" width="5.88" height="6.13" fill="#00aaff"/>
<rect x="258.95" y="384.86" width="5.88" height="6.13" fill="#00ffff"/>
<rect x="264.53" y="384.86" width="5.88" height="6.13" fill="#00ffff"/>
<rect x="270.12" y="384.86" width="5.88" height="6.13" fill="#0055ff"/>
<rect x="275.70" y="384.86" width="5.88" height="6.13" fill="#08fff7"/>
<rect x="281.29" y="384.86" width="5.88" height="6.13" fill="#00c3ff"/>
<rect x="286.88" y="384.86" width="5.88" height="6.13" fill="#000097"/>
<rect x="292.46" y="384.86" width="5.88" height="6.13" fill="#000080"/>
<rect x="298.04" y="384.86" width="5.88" height="6.13" fill="#000080"/>
<rect x="303.63" y="384.86" width="5.88" height="6.13" fill="#000080"/>
<rect x="309.21" y="384.86" width="5.88" height="6.13" fill="#000080"/>
<rect x="203.10" y="390.69" width="5.88" height="6.13" fill="#000080"/>
<rect x="208.69" y="390.69" width="5.88" height="6.13" fill="#000080"/>
<rect x="214.27" y="390.69" width="5.88" height="6.13" fill="#000080"/>
<rect x="219.85" y="390.69" width="5.88" height="6.13" fill="#00008b"/>
<rect x="225.44" y="390.69" width="5.88" height="6.13" fill="#0000ff"/>
<rect x="231.03" y="390.69" width="5.88" height="6.13" fill="#0000c7"/>
<rect x="236.61" y="390.69" width="5.88" height="6.13" fill="#00008b"/>
<rect x="242.19" y="390.69" width="5.88" height="6.13" fill="#0000ff"/>
<rect x="247.78" y="390.69" width="5.88" height="6.13" fill="#00c3ff"/>
<rect x="253.37" y="390.69" width="5.88" height="6.13" fill="#00d4ff"/>
<rect x="258.95" y="390.69" width="5.88" height="6.13" fill="#00c3ff"/>
<rect x="264.53" y="390.69" width="5.88" height="6.13" fill="#00e6ff"/>
<rect x="270.12" y="390.69" width="5.88" height="6.13" fill="#00bbff"/>
<rect x="275.70" y="390.69" width="5.88" height="6.13" fill="#002aff"/>
<rect x="281.29" y="390.69" width="5.88" height="6.13" fill="#00aaff"/>
<rect x="286.88" y="390.69" width="5.88" height="6.13" fill="#003cff"/>
<rect x="292.46" y="390.69" width="5.88" height="6.13" fill="#000080"/>
<rect x="298.04" y="390.69" width="5.88" height="6.13" fill="#000080"/>
<rect x="303.63" y="390.69" width="5.88" height="6.13" fill="#000080"/>
<rect x="309.21" y="390.69" width="5.88" height="6.13" fill="#000080"/>
<rect x="203.10" y="396.52" width="5.88" height="6.13" fill="#0000ee"/>
<rect x="208.69" y="396.52" width="5.88" height="6.13" fill="#000080"/>
<rect x="214.27" y="396.52" width="5.88" height="6.13" fill="#000080"/>
<rect x="219.85" y="396.52" width="5.88" height="6.13" fill="#000080"/>
<rect x="225.44" y="396.52" width="5.88" height="6.13" fill="#000080"/>
<rect x="231.03" y="396.52" width="5.88" height="6.13" fill="#00008b"/>
<rect x="236.61" y="396.52" width="5.88" height="6.13" fill="#00008b"/>
<rect x="242.19" y="396.52" width="5.88" height="6.13" fill="#0055ff"/>
<rect x="247.78" y="396.52" width="5.88" height="6.13" fill="#0008ff"/>
<rect x="253.37" y="396.52" width="5.88" height="6.13" fill="#0019ff"/>
<rect x="258.95" y="396.52" width="5.88" height="6.13" fill="#0019ff"/>
<rect x="264.53" y="396.52" width="5.88" height="6.13" fill="#0008ff"/>
<rect x="270.12" y="396.52" width="5.88" height="6.13" fill="#003cff"/>
<rect x="275.70" y="396.52" width="5.88" height="6.13" fill="#0000af"/>
<rect x="281.29" y="396.52" width="5.88" height="6.13" fill="#000080"/>
<rect x="286.88" y="396.52" width="5.88" height="6.13" fill="#000080"/>
<rect x="292.46" y="396.52" width="5.88" height="6.13" fill="#000080"/>
<rect x="298.04" y="396.52" width="5.88" height="6.13" fill="#000080"/>
<rect x="303.63" y="396.52" width="5.88" height="6.13" fill="#000080"/>
<rect x="309.21" y="396.52" width="5.88" height="6.13" fill="#000080"/>
<rect x="203.10" y="402.35" width="5.88" height="6.13" fill="#000080"/>
<rect x="208.69" y="402.35" width="5.88" height="6.13" fill="#000080"/>
<rect x="214.27" y="402.35" width="5.88" height="6.13" fill="#000080"/>
<rect x="219.85" y="402.35" width="5.88" height="6.13" fill="#000080"/>
<rect x="225.44" y="402.35" width="5.88" height="6.13" fill="#0000e5"/>
<rect x="231.03" y="402.35" width="5.88" height="6.13" fill="#0000af"/>
<rect x="236.61" y="402.35" width="5.88" height="6.13" fill="#0000f6"/>
<rect x="242.19" y="402.35" width="5.88" height="6.13" fill="#004cff"/>
<rect x="247.78" y="402.35" width="5.88" height="6.13" fill="#00008b"/>
<rect x="253.37" y="402.35" width="5.88" height="6.13" fill="#00008b"/>
<rect x="258.95" y="402.35" width="5.88" height="6.13" fill="#00008b"/>
<rect x="264.53" y="402.35" width="5.88" height="6.13" fill="#00008b"/>
<rect x="270.12" y="402.35" width="5.88" height="6.13" fill="#0000a3"/>
<rect x="275.70" y="402.35" width="5.88" height="6.13" fill="#0000ee"/>
<rect x="281.29" y="402.35" width="5.88" height="6.13" fill="#000080"/>
<rect x="286.88" y="402.35" width="5.88" height="6.13" fill="#000080"/>
<rect x="292.46" y="402.35" width="5.88" height="6.13" fill="#000080"/>
<rect x="298.04" y="402.35" width="5.88" height="6.13" fill="#000080"/>
<rect x="303.63" y="402.35" width="5.88" height="6.13" fill="#000080"/>
<rect x="309.21" y="402.35" width="5.88" height="6.13" fill="#0000a3"/>
<rect x="203.10" y="408.18" width="5.88" height="6.13" fill="#000080"/>
<rect x="208.69" y="408.18" width="5.88" height="6.13" fill="#000080"/>
<rect x="214.27" y="408.18" width="5.88" height="6.13" fill="#000080"/>
<rect x="219.85" y="408.18" width="5.88" height="6.13" fill="#000080"/>
<rect x="225.44" y="408.18" width="5.88" height="6.13" fill="#00008b"/>
<rect x="231.03" y="408.18" width="5.88" height="6.13" fill="#0008ff"/>
<rect x="236.61" y="408.18" width="5.88" height="6.13" fill="#0011ff"/>
<rect x="242.19" y="408.18" width="5.88" height="6.13" fill="#00008b"/>
<rect x="247.78" y="408.18" width="5.88" height="6.13" fill="#000080"/>
<rect x="253.37" y="408.18" width="5.88" height="6.13" fill="#000080"/>
<rect x="258.95" y="408.18" width="5.88" height="6.13" fill="#00008b"/>
<rect x="264.53" y="408.18" width="5.88" height="6.13" fill="#000080"/>
<rect x="270.12" y="408.18" width="5.88" height="6.13" fill="#000080"/>
<rect x="275.70" y="408.18" width="5.88" height="6.13" fill="#00008b"/>
<rect x="281.29" y="408.18" width="5.88" height="6.13" fill="#000080"/>
<rect x="286.88" y="408.18" width="5.88" height="6.13" fill="#000080"/>
<rect x="292.46" y="408.18" width="5.88" height="6.13" fill="#000080"/>
<rect x="298.04" y="408.18" width="5.88" height="6.13" fill="#000080"/>
<rect x="303.63" y="408.18" width="5.88" height="6.13" fill="#000080"/>
<rect x="309.21" y="408.18" width="5.88" height="6.13" fill="#00008b"/>
<rect x="203.10" y="414.01" width="5.88" height="6.13" fill="#000080"/>
<rect x="208.69" y="414.01" width="5.88" height="6.13" fill="#000080"/>
<rect x="214.27" y="414.01" width="5.88" height="6.13" fill="#0000af"/>
<rect x="219.85" y="414.01" width="5.88" height="6.13" fill="#000080"/>
<rect x="225.44" y="414.01" width="5.88" height="6.13" fill="#00008b"/>
<rect x="231.03" y="414.01" width="5.88" height="6.13" fill="#0000ee"/>
<rect x="236.61" y="414.01" width="5.88" height="6.13" fill="#000080"/>
<rect x="242.19" y="414.01" width="5.88" height="6.13" fill="#00008b"/>
<rect x="247.78" y="414.01" width="5.88" height="6.13" fill="#000080"/>
<rect x="253.37" y="414.01" width="5.88" height="6.13" fill="#000080"/>
<rect x="258.95" y="414.01" width="5.88" height="6.13" fill="#000080"/>
<rect x="264.53" y="414.01" width="5.88" height="6.13" fill="#000080"/>
<rect x="270.12" y="414.01" width="5.88" height="6.13" fill="#000080"/>
<rect x="275.70" y="414.01" width="5.88" height="6.13" fill="#000080"/>
<rect x="281.29" y="414.01" width="5.88" height="6.13" fill="#0008ff"/>
<rect x="286.88" y="414.01" width="5.88" height="6.13" fill="#000080"/>
<rect x="292.46" y="414.01" width="5.88" height="6.13" fill="#000080"/>
<rect x="298.04" y="414.01" width="5.88" height="6.13" fill="#000080"/>
<rect x="303.63" y="414.01" width="5.88" height="6.13" fill="#000080"/>
<rect x="309.21" y="414.01" width="5.88" height="6.13" fill="#000097"/>
<rect x="203.10" y="419.84" width="5.88" height="6.13" fill="#00008b"/>
<rect x="208.69" y="419.84" width="5.88" height="6.13" fill="#0000bb"/>
<rect x="214.27" y="419.84" width="5.88" height="6.13" fill="#0000bb"/>
<rect x="219.85" y="419.84" width="5.88" height="6.13" fill="#00008b"/>
<rect x="225.44" y="419.84" width="5.88" height="6.13" fill="#00008b"/>
<rect x="231.03" y="419.84" width="5.88" height="6.13" fill="#0000f6"/>
<rect x="236.61" y="419.84" width="5.88" height="6.13" fill="#0008ff"/>
<rect x="242.19" y="419.84" width="5.88" height="6.13" fill="#0000ff"/>
<rect x="247.78" y="419.84" width="5.88" height="6.13" fill="#00008b"/>
<rect x="253.37" y="419.84" width="5.88" height="6.13" fill="#000080"/>
<rect x="258.95" y="419.84" width="5.88" height="6.13" fill="#000080"/>
<rect x="264.53" y="419.84" width="5.88" height="6.13" fill="#000080"/>
<rect x="270.12" y="419.84" width="5.88" height="6.13" fill="#000080"/>
<rect x="275.70" y="419.84" width="5.88" height="6.13" fill="#000080"/>
<rect x="281.29" y="419.84" width="5.88" height="6.13" fill="#00008b"/>
<rect x="286.88" y="419.84" width="5.88" height="6.13" fill="#0000af"/>
<rect x="292.46" y="419.84" width="5.88" height="6.13" fill="#0000af"/>
<rect x="298.04" y="419.84" width="5.88" height="6.13" fill="#0000e5"/>
<rect x="303.63" y="419.84" width="5.88" height="6.13" fill="#0000ee"/>
<rect x="309.21" y="419.84" width="5.88" height="6.13" fill="#0000e5"/>
<rect x="203.10" y="425.67" width="5.88" height="6.13" fill="#000080"/>
<rect x="208.69" y="425.67" width="5.88" height="6.13" fill="#000080"/>
<rect x="214.27" y="425.67" width="5.88" height="6.13" fill="#000080"/>
<rect x="219.85" y="425.67" width="5.88" height="6.13" fill="#000080"/>
<rect x="225.44" y="425.67" width="5.88" height="6.13" fill="#000080"/>
<rect x="231.03" y="425.67" width="5.88" height="6.13" fill="#000080"/>
<rect x="236.61" y="425.67" width="5.88" height="6.13" fill="#00008b"/>
<rect x="242.19" y="425.67" width="5.88" height="6.13" fill="#00008b"/>
<rect x="247.78" y="425.67" width="5.88" height="6.13" fill="#000080"/>
<rect x="253.37" y="425.67" width="5.88" height="6.13" fill="#0000e5"/>
<rect x="258.95" y="425.67" width="5.88" height="6.13" fill="#000080"/>
<rect x="264.53" y="425.67" width="5.88" height="6.13" fill="#000080"/>
<rect x="270.12" y="425.67" width="5.88" height="6.13" fill="#000080"/>
<rect x="275.70" y="425.67" width="5.88" height="6.13" fill="#000080"/>
<rect x="281.29" y="425.67" width="5.88" height="6.13" fill="#000080"/>
<rect x="286.88" y="425.67" width="5.88" height="6.13" fill="#00008b"/>
<rect x="292.46" y="425.67" width="5.88" height="6.13" fill="#0000e5"/>
<rect x="298.04" y="425.67" width="5.88" height="6.13" fill="#0000af"/>
<rect x="303.63" y="425.67" width="5.88" height="6.13" fill="#000080"/>
<rect x="309.21" y="425.67" width="5.88" height="6.13" fill="#00008b"/>
</g>
<line x1="203.10" y1="376.12" x2="314.80" y2="376.12" stroke="#ff0000" stroke-width="2.8"/>
<line x1="262.50" y1="314.90" x2="262.50" y2="431.50" stroke="#10b04c" stroke-width="2.9"/>
<line x1="201.50" y1="318.30" x2="203.10" y2="318.30" stroke="#555" stroke-width="0.8"/>
<line x1="156.50" y1="318.30" x2="157.70" y2="318.30" stroke="#666" stroke-width="0.8"/>
<line x1="201.50" y1="333.60" x2="203.10" y2="333.60" stroke="#555" stroke-width="0.8"/>
<line x1="156.50" y1="333.60" x2="157.70" y2="333.60" stroke="#666" stroke-width="0.8"/>
<line x1="201.50" y1="348.90" x2="203.10" y2="348.90" stroke="#555" stroke-width="0.8"/>
<line x1="156.50" y1="348.90" x2="157.70" y2="348.90" stroke="#666" stroke-width="0.8"/>
<line x1="201.50" y1="364.20" x2="203.10" y2="364.20" stroke="#555" stroke-width="0.8"/>
<line x1="156.50" y1="364.20" x2="157.70" y2="364.20" stroke="#666" stroke-width="0.8"/>
<line x1="201.50" y1="379.50" x2="203.10" y2="379.50" stroke="#555" stroke-width="0.8"/>
<line x1="156.50" y1="379.50" x2="157.70" y2="379.50" stroke="#666" stroke-width="0.8"/>
<line x1="201.50" y1="394.80" x2="203.10" y2="394.80" stroke="#555" stroke-width="0.8"/>
<line x1="156.50" y1="394.80" x2="157.70" y2="394.80" stroke="#666" stroke-width="0.8"/>
<line x1="201.50" y1="410.10" x2="203.10" y2="410.10" stroke="#555" stroke-width="0.8"/>
<line x1="156.50" y1="410.10" x2="157.70" y2="410.10" stroke="#666" stroke-width="0.8"/>
<line x1="201.50" y1="425.40" x2="203.10" y2="425.40" stroke="#555" stroke-width="0.8"/>
<line x1="156.50" y1="425.40" x2="157.70" y2="425.40" stroke="#666" stroke-width="0.8"/>
<rect x="201.6" y="267.8" width="115.00" height="38.70" fill="#fff" stroke="#8c8c8c" stroke-width="1"/>
<line x1="212.60" y1="306.50" x2="212.60" y2="308.30" stroke="#666" stroke-width="0.8"/>
<line x1="239.90" y1="306.50" x2="239.90" y2="308.30" stroke="#666" stroke-width="0.8"/>
<line x1="267.20" y1="306.50" x2="267.20" y2="308.30" stroke="#666" stroke-width="0.8"/>
<line x1="294.50" y1="306.50" x2="294.50" y2="308.30" stroke="#666" stroke-width="0.8"/>
<polyline points="206.5,303.6 218.0,303.6 228.0,302.5 234.2,300.3 239.4,297.2 245.0,292.0 250.7,285.8 255.9,281.6 261.6,278.3 267.2,279.6 272.8,284.2 278.3,288.9 284.0,293.0 289.6,297.7 295.3,300.5 300.5,301.8 305.7,302.5 311.4,302.8" fill="none" stroke="#3a3ae0" stroke-width="1.1"/>
<polyline points="206.5,301.5 212.3,295.1 218.2,301.1 223.5,302.1 228.8,303.6 234.2,300.3 239.4,292.0 245.0,286.8 250.7,276.8 255.9,281.1 261.6,274.9 267.2,269.4 272.8,279.6 278.3,289.9 284.0,292.8 289.6,298.0 295.3,300.3 300.5,304.2 305.7,304.6 311.4,303.4" fill="none" stroke="#e03030" stroke-width="1.1"/>
<rect x="157.7" y="315.3" width="38.80" height="116.90" fill="#fff" stroke="#8c8c8c" stroke-width="1"/>
<clipPath id="lc0"><rect x="157.7" y="315.3" width="38.80" height="116.90"/></clipPath>
<g clip-path="url(#lc0)">
<polyline points="196.4,322.0 196.2,328.2 192.0,338.0 187.1,345.0 178.0,353.4 168.9,361.8 165.4,368.8 164.3,372.3 166.6,376.8 172.6,385.8 181.6,394.9 189.2,403.9 193.7,412.2 196.0,421.2 195.2,427.3" fill="none" stroke="#3a3ae0" stroke-width="1.0"/>
<polyline points="195.9,317.8 192.0,320.9 194.8,327.5 191.3,334.5 187.8,343.6 183.6,350.6 177.3,357.6 168.2,363.2 170.7,370.2 161.3,376.8 162.8,383.6 178.6,388.8 180.9,393.8 186.9,400.9 199.5,407.8 195.8,412.5 199.5,417.0 199.5,423.0 196.6,426.2 190.4,432.6" fill="none" stroke="#1f8a2a" stroke-width="1.5"/>
</g>
<text x="159.98" y="292.9" font-size="13.6" font-style="italic" fill="#1a1a1a">t</text>
<text x="163.44" y="292.9" font-size="13.6" fill="#1a1a1a">=55 s</text>
<g shape-rendering="crispEdges" filter="url(#hblur)">
<rect x="370.00" y="315.10" width="5.88" height="6.13" fill="#00008b"/>
<rect x="375.58" y="315.10" width="5.88" height="6.13" fill="#0008ff"/>
<rect x="381.17" y="315.10" width="5.88" height="6.13" fill="#0008ff"/>
<rect x="386.75" y="315.10" width="5.88" height="6.13" fill="#000080"/>
<rect x="392.34" y="315.10" width="5.88" height="6.13" fill="#000080"/>
<rect x="397.93" y="315.10" width="5.88" height="6.13" fill="#000080"/>
<rect x="403.51" y="315.10" width="5.88" height="6.13" fill="#000080"/>
<rect x="409.10" y="315.10" width="5.88" height="6.13" fill="#00008b"/>
<rect x="414.68" y="315.10" width="5.88" height="6.13" fill="#0055ff"/>
<rect x="420.26" y="315.10" width="5.88" height="6.13" fill="#0019ff"/>
<rect x="425.85" y="315.10" width="5.88" height="6.13" fill="#00008b"/>
<rect x="431.44" y="315.10" width="5.88" height="6.13" fill="#0000c7"/>
<rect x="437.02" y="315.10" width="5.88" height="6.13" fill="#000080"/>
<rect x="442.61" y="315.10" width="5.88" height="6.13" fill="#000080"/>
<rect x="448.19" y="315.10" width="5.88" height="6.13" fill="#000080"/>
<rect x="453.77" y="315.10" width="5.88" height="6.13" fill="#0000a3"/>
<rect x="459.36" y="315.10" width="5.88" height="6.13" fill="#000080"/>
<rect x="464.94" y="315.10" width="5.88" height="6.13" fill="#000080"/>
<rect x="470.53" y="315.10" width="5.88" height="6.13" fill="#00008b"/>
<rect x="476.12" y="315.10" width="5.88" height="6.13" fill="#0000a3"/>
<rect x="370.00" y="320.93" width="5.88" height="6.13" fill="#0000bb"/>
<rect x="375.58" y="320.93" width="5.88" height="6.13" fill="#000080"/>
<rect x="381.17" y="320.93" width="5.88" height="6.13" fill="#000080"/>
<rect x="386.75" y="320.93" width="5.88" height="6.13" fill="#000080"/>
<rect x="392.34" y="320.93" width="5.88" height="6.13" fill="#000080"/>
<rect x="397.93" y="320.93" width="5.88" height="6.13" fill="#000080"/>
<rect x="403.51" y="320.93" width="5.88" height="6.13" fill="#000080"/>
<rect x="409.10" y="320.93" width="5.88" height="6.13" fill="#000080"/>
<rect x="414.68" y="320.93" width="5.88" height="6.13" fill="#000080"/>
<rect x="420.26" y="320.93" width="5.88" height="6.13" fill="#00008b"/>
<rect x="425.85" y="320.93" width="5.88" height="6.13" fill="#000080"/>
<rect x="431.44" y="320.93" width="5.88" height="6.13" fill="#00008b"/>
<rect x="437.02" y="320.93" width="5.88" height="6.13" fill="#0000c7"/>
<rect x="442.61" y="320.93" width="5.88" height="6.13" fill="#000080"/>
<rect x="448.19" y="320.93" width="5.88" height="6.13" fill="#000080"/>
<rect x="453.77" y="320.93" width="5.88" height="6.13" fill="#000080"/>
<rect x="459.36" y="320.93" width="5.88" height="6.13" fill="#00008b"/>
<rect x="464.94" y="320.93" width="5.88" height="6.13" fill="#0000ee"/>
<rect x="470.53" y="320.93" width="5.88" height="6.13" fill="#0000a3"/>
<rect x="476.12" y="320.93" width="5.88" height="6.13" fill="#0000bb"/>
<rect x="370.00" y="326.76" width="5.88" height="6.13" fill="#000080"/>
<rect x="375.58" y="326.76" width="5.88" height="6.13" fill="#000080"/>
<rect x="381.17" y="326.76" width="5.88" height="6.13" fill="#000080"/>
<rect x="386.75" y="326.76" width="5.88" height="6.13" fill="#000080"/>
<rect x="392.34" y="326.76" width="5.88" height="6.13" fill="#000080"/>
<rect x="397.93" y="326.76" width="5.88" height="6.13" fill="#000080"/>
<rect x="403.51" y="326.76" width="5.88" height="6.13" fill="#000080"/>
<rect x="409.10" y="326.76" width="5.88" height="6.13" fill="#0008ff"/>
<rect x="414.68" y="326.76" width="5.88" height="6.13" fill="#000080"/>
<rect x="420.26" y="326.76" width="5.88" height="6.13" fill="#00008b"/>
<rect x="425.85" y="326.76" width="5.88" height="6.13" fill="#0000ee"/>
<rect x="431.44" y="326.76" width="5.88" height="6.13" fill="#00008b"/>
<rect x="437.02" y="326.76" width="5.88" height="6.13" fill="#00008b"/>
<rect x="442.61" y="326.76" width="5.88" height="6.13" fill="#0000af"/>
<rect x="448.19" y="326.76" width="5.88" height="6.13" fill="#00008b"/>
<rect x="453.77" y="326.76" width="5.88" height="6.13" fill="#00008b"/>
<rect x="459.36" y="326.76" width="5.88" height="6.13" fill="#0000ee"/>
<rect x="464.94" y="326.76" width="5.88" height="6.13" fill="#0000f6"/>
<rect x="470.53" y="326.76" width="5.88" height="6.13" fill="#0000ff"/>
<rect x="476.12" y="326.76" width="5.88" height="6.13" fill="#00008b"/>
<rect x="370.00" y="332.59" width="5.88" height="6.13" fill="#000080"/>
<rect x="375.58" y="332.59" width="5.88" height="6.13" fill="#000080"/>
<rect x="381.17" y="332.59" width="5.88" height="6.13" fill="#000080"/>
<rect x="386.75" y="332.59" width="5.88" height="6.13" fill="#0000a3"/>
<rect x="392.34" y="332.59" width="5.88" height="6.13" fill="#000080"/>
<rect x="397.93" y="332.59" width="5.88" height="6.13" fill="#000080"/>
<rect x="403.51" y="332.59" width="5.88" height="6.13" fill="#000080"/>
<rect x="409.10" y="332.59" width="5.88" height="6.13" fill="#0000af"/>
<rect x="414.68" y="332.59" width="5.88" height="6.13" fill="#00008b"/>
<rect x="420.26" y="332.59" width="5.88" height="6.13" fill="#003cff"/>
<rect x="425.85" y="332.59" width="5.88" height="6.13" fill="#0008ff"/>
<rect x="431.44" y="332.59" width="5.88" height="6.13" fill="#0000ff"/>
<rect x="437.02" y="332.59" width="5.88" height="6.13" fill="#00008b"/>
<rect x="442.61" y="332.59" width="5.88" height="6.13" fill="#00008b"/>
<rect x="448.19" y="332.59" width="5.88" height="6.13" fill="#0000bb"/>
<rect x="453.77" y="332.59" width="5.88" height="6.13" fill="#00008b"/>
<rect x="459.36" y="332.59" width="5.88" height="6.13" fill="#00008b"/>
<rect x="464.94" y="332.59" width="5.88" height="6.13" fill="#00008b"/>
<rect x="470.53" y="332.59" width="5.88" height="6.13" fill="#0000ff"/>
<rect x="476.12" y="332.59" width="5.88" height="6.13" fill="#00008b"/>
<rect x="370.00" y="338.42" width="5.88" height="6.13" fill="#000080"/>
<rect x="375.58" y="338.42" width="5.88" height="6.13" fill="#000080"/>
<rect x="381.17" y="338.42" width="5.88" height="6.13" fill="#000080"/>
<rect x="386.75" y="338.42" width="5.88" height="6.13" fill="#00008b"/>
<rect x="392.34" y="338.42" width="5.88" height="6.13" fill="#0000c7"/>
<rect x="397.93" y="338.42" width="5.88" height="6.13" fill="#0000bb"/>
<rect x="403.51" y="338.42" width="5.88" height="6.13" fill="#0000bb"/>
<rect x="409.10" y="338.42" width="5.88" height="6.13" fill="#003cff"/>
<rect x="414.68" y="338.42" width="5.88" height="6.13" fill="#0055ff"/>
<rect x="420.26" y="338.42" width="5.88" height="6.13" fill="#003cff"/>
<rect x="425.85" y="338.42" width="5.88" height="6.13" fill="#0011ff"/>
<rect x="431.44" y="338.42" width="5.88" height="6.13" fill="#0008ff"/>
<rect x="437.02" y="338.42" width="5.88" height="6.13" fill="#0000c7"/>
<rect x="442.61" y="338.42" width="5.88" height="6.13" fill="#00008b"/>
<rect x="448.19" y="338.42" width="5.88" height="6.13" fill="#0000ee"/>
<rect x="453.77" y="338.42" width="5.88" height="6.13" fill="#000097"/>
<rect x="459.36" y="338.42" width="5.88" height="6.13" fill="#000080"/>
<rect x="464.94" y="338.42" width="5.88" height="6.13" fill="#000080"/>
<rect x="470.53" y="338.42" width="5.88" height="6.13" fill="#00008b"/>
<rect x="476.12" y="338.42" width="5.88" height="6.13" fill="#000080"/>
<rect x="370.00" y="344.25" width="5.88" height="6.13" fill="#0000ee"/>
<rect x="375.58" y="344.25" width="5.88" height="6.13" fill="#000080"/>
<rect x="381.17" y="344.25" width="5.88" height="6.13" fill="#000080"/>
<rect x="386.75" y="344.25" width="5.88" height="6.13" fill="#0000af"/>
<rect x="392.34" y="344.25" width="5.88" height="6.13" fill="#0000af"/>
<rect x="397.93" y="344.25" width="5.88" height="6.13" fill="#000080"/>
<rect x="403.51" y="344.25" width="5.88" height="6.13" fill="#00008b"/>
<rect x="409.10" y="344.25" width="5.88" height="6.13" fill="#0008ff"/>
<rect x="414.68" y="344.25" width="5.88" height="6.13" fill="#0000af"/>
<rect x="420.26" y="344.25" width="5.88" height="6.13" fill="#000097"/>
<rect x="425.85" y="344.25" width="5.88" height="6.13" fill="#002aff"/>
<rect x="431.44" y="344.25" width="5.88" height="6.13" fill="#0011ff"/>
<rect x="437.02" y="344.25" width="5.88" height="6.13" fill="#0000ff"/>
<rect x="442.61" y="344.25" width="5.88" height="6.13" fill="#000097"/>
<rect x="448.19" y="344.25" width="5.88" height="6.13" fill="#0011ff"/>
<rect x="453.77" y="344.25" width="5.88" height="6.13" fill="#0019ff"/>
<rect x="459.36" y="344.25" width="5.88" height="6.13" fill="#000097"/>
<rect x="464.94" y="344.25" width="5.88" height="6.13" fill="#00008b"/>
<rect x="470.53" y="344.25" width="5.88" height="6.13" fill="#00008b"/>
<rect x="476.12" y="344.25" width="5.88" height="6.13" fill="#000080"/>
<rect x="370.00" y="350.08" width="5.88" height="6.13" fill="#000080"/>
<rect x="375.58" y="350.08" width="5.88" height="6.13" fill="#000080"/>
<rect x="381.17" y="350.08" width="5.88" height="6.13" fill="#000080"/>
<rect x="386.75" y="350.08" width="5.88" height="6.13" fill="#0000af"/>
<rect x="392.34" y="350.08" width="5.88" height="6.13" fill="#0000bb"/>
<rect x="397.93" y="350.08" width="5.88" height="6.13" fill="#0000c7"/>
<rect x="403.51" y="350.08" width="5.88" height="6.13" fill="#000097"/>
<rect x="409.10" y="350.08" width="5.88" height="6.13" fill="#003cff"/>
<rect x="414.68" y="350.08" width="5.88" height="6.13" fill="#0022ff"/>
<rect x="420.26" y="350.08" width="5.88" height="6.13" fill="#003cff"/>
<rect x="425.85" y="350.08" width="5.88" height="6.13" fill="#003cff"/>
<rect x="431.44" y="350.08" width="5.88" height="6.13" fill="#0044ff"/>
<rect x="437.02" y="350.08" width="5.88" height="6.13" fill="#0019ff"/>
<rect x="442.61" y="350.08" width="5.88" height="6.13" fill="#006eff"/>
<rect x="448.19" y="350.08" width="5.88" height="6.13" fill="#002aff"/>
<rect x="453.77" y="350.08" width="5.88" height="6.13" fill="#0008ff"/>
<rect x="459.36" y="350.08" width="5.88" height="6.13" fill="#000097"/>
<rect x="464.94" y="350.08" width="5.88" height="6.13" fill="#0000a3"/>
<rect x="470.53" y="350.08" width="5.88" height="6.13" fill="#00008b"/>
<rect x="476.12" y="350.08" width="5.88" height="6.13" fill="#0000af"/>
<rect x="370.00" y="355.91" width="5.88" height="6.13" fill="#000080"/>
<rect x="375.58" y="355.91" width="5.88" height="6.13" fill="#000080"/>
<rect x="381.17" y="355.91" width="5.88" height="6.13" fill="#000080"/>
<rect x="386.75" y="355.91" width="5.88" height="6.13" fill="#000097"/>
<rect x="392.34" y="355.91" width="5.88" height="6.13" fill="#0008ff"/>
<rect x="397.93" y="355.91" width="5.88" height="6.13" fill="#00008b"/>
<rect x="403.51" y="355.91" width="5.88" height="6.13" fill="#0000ee"/>
<rect x="409.10" y="355.91" width="5.88" height="6.13" fill="#004cff"/>
<rect x="414.68" y="355.91" width="5.88" height="6.13" fill="#002aff"/>
<rect x="420.26" y="355.91" width="5.88" height="6.13" fill="#0000ff"/>
<rect x="425.85" y="355.91" width="5.88" height="6.13" fill="#0055ff"/>
<rect x="431.44" y="355.91" width="5.88" height="6.13" fill="#006eff"/>
<rect x="437.02" y="355.91" width="5.88" height="6.13" fill="#0044ff"/>
<rect x="442.61" y="355.91" width="5.88" height="6.13" fill="#0099ff"/>
<rect x="448.19" y="355.91" width="5.88" height="6.13" fill="#006eff"/>
<rect x="453.77" y="355.91" width="5.88" height="6.13" fill="#0044ff"/>
<rect x="459.36" y="355.91" width="5.88" height="6.13" fill="#000097"/>
<rect x="464.94" y="355.91" width="5.88" height="6.13" fill="#00008b"/>
<rect x="470.53" y="355.91" width="5.88" height="6.13" fill="#0008ff"/>
<rect x="476.12" y="355.91" width="5.88" height="6.13" fill="#00008b"/>
<rect x="370.00" y="361.74" width="5.88" height="6.13" fill="#000080"/>
<rect x="375.58" y="361.74" width="5.88" height="6.13" fill="#000080"/>
<rect x="381.17" y="361.74" width="5.88" height="6.13" fill="#000080"/>
<rect x="386.75" y="361.74" width="5.88" height="6.13" fill="#0000a3"/>
<rect x="392.34" y="361.74" width="5.88" height="6.13" fill="#00008b"/>
<rect x="397.93" y="361.74" width="5.88" height="6.13" fill="#0000ee"/>
<rect x="403.51" y="361.74" width="5.88" height="6.13" fill="#0000ff"/>
<rect x="409.10" y="361.74" width="5.88" height="6.13" fill="#0099ff"/>
<rect x="414.68" y="361.74" width="5.88" height="6.13" fill="#00c3ff"/>
<rect x="420.26" y="361.74" width="5.88" height="6.13" fill="#006eff"/>
<rect x="425.85" y="361.74" width="5.88" height="6.13" fill="#00ffff"/>
<rect x="431.44" y="361.74" width="5.88" height="6.13" fill="#2bffd4"/>
<rect x="437.02" y="361.74" width="5.88" height="6.13" fill="#00eeff"/>
<rect x="442.61" y="361.74" width="5.88" height="6.13" fill="#004cff"/>
<rect x="448.19" y="361.74" width="5.88" height="6.13" fill="#002aff"/>
<rect x="453.77" y="361.74" width="5.88" height="6.13" fill="#0019ff"/>
<rect x="459.36" y="361.74" width="5.88" height="6.13" fill="#0000ff"/>
<rect x="464.94" y="361.74" width="5.88" height="6.13" fill="#000097"/>
<rect x="470.53" y="361.74" width="5.88" height="6.13" fill="#0000af"/>
<rect x="476.12" y="361.74" width="5.88" height="6.13" fill="#00008b"/>
<rect x="370.00" y="367.57" width="5.88" height="6.13" fill="#000080"/>
<rect x="375.58" y="367.57" width="5.88" height="6.13" fill="#000080"/>
<rect x="381.17" y="367.57" width="5.88" height="6.13" fill="#000080"/>
<rect x="386.75" y="367.57" width="5.88" height="6.13" fill="#0000af"/>
<rect x="392.34" y="367.57" width="5.88" height="6.13" fill="#00008b"/>
<rect x="397.93" y="367.57" width="5.88" height="6.13" fill="#004cff"/>
<rect x="403.51" y="367.57" width="5.88" height="6.13" fill="#004cff"/>
<rect x="409.10" y="367.57" width="5.88" height="6.13" fill="#0090ff"/>
<rect x="414.68" y="367.57" width="5.88" height="6.13" fill="#00c3ff"/>
<rect x="420.26" y="367.57" width="5.88" height="6.13" fill="#aaff55"/>
<rect x="425.85" y="367.57" width="5.88" height="6.13" fill="#00d4ff"/>
<rect x="431.44" y="367.57" width="5.88" height="6.13" fill="#00aaff"/>
<rect x="437.02" y="367.57" width="5.88" height="6.13" fill="#00a2ff"/>
<rect x="442.61" y="367.57" width="5.88" height="6.13" fill="#0055ff"/>
<rect x="448.19" y="367.57" width="5.88" height="6.13" fill="#0000ff"/>
<rect x="453.77" y="367.57" width="5.88" height="6.13" fill="#0000e5"/>
<rect x="459.36" y="367.57" width="5.88" height="6.13" fill="#000097"/>
<rect x="464.94" y="367.57" width="5.88" height="6.13" fill="#00008b"/>
<rect x="470.53" y="367.57" width="5.88" height="6.13" fill="#00008b"/>
<rect x="476.12" y="367.57" width="5.88" height="6.13" fill="#000097"/>
<rect x="370.00" y="373.40" width="5.88" height="6.13" fill="#000080"/>
<rect x="375.58" y="373.40" width="5.88" height="6.13" fill="#0000ee"/>
<rect x="381.17" y="373.40" width="5.88" height="6.13" fill="#000080"/>
<rect x="386.75" y="373.40" width="5.88" height="6.13" fill="#000080"/>
<rect x="392.34" y="373.40" width="5.88" height="6.13" fill="#0000e5"/>
<rect x="397.93" y="373.40" width="5.88" height="6.13" fill="#002aff"/>
<rect x="403.51" y="373.40" width="5.88" height="6.13" fill="#0080ff"/>
<rect x="409.10" y="373.40" width="5.88" height="6.13" fill="#0080ff"/>
<rect x="414.68" y="373.40" width="5.88" height="6.13" fill="#0055ff"/>
<rect x="420.26" y="373.40" width="5.88" height="6.13" fill="#002aff"/>
<rect x="425.85" y="373.40" width="5.88" height="6.13" fill="#00ffff"/>
<rect x="431.44" y="373.40" width="5.88" height="6.13" fill="#00ffff"/>
<rect x="437.02" y="373.40" width="5.88" height="6.13" fill="#00ffff"/>
<rect x="442.61" y="373.40" width="5.88" height="6.13" fill="#55ffaa"/>
<rect x="448.19" y="373.40" width="5.88" height="6.13" fill="#002aff"/>
<rect x="453.77" y="373.40" width="5.88" height="6.13" fill="#000097"/>
<rect x="459.36" y="373.40" width="5.88" height="6.13" fill="#0000af"/>
<rect x="464.94" y="373.40" width="5.88" height="6.13" fill="#00008b"/>
<rect x="470.53" y="373.40" width="5.88" height="6.13" fill="#00008b"/>
<rect x="476.12" y="373.40" width="5.88" height="6.13" fill="#0000af"/>
<rect x="370.00" y="379.23" width="5.88" height="6.13" fill="#000080"/>
<rect x="375.58" y="379.23" width="5.88" height="6.13" fill="#0000bb"/>
<rect x="381.17" y="379.23" width="5.88" height="6.13" fill="#000080"/>
<rect x="386.75" y="379.23" width="5.88" height="6.13" fill="#000080"/>
<rect x="392.34" y="379.23" width="5.88" height="6.13" fill="#00008b"/>
<rect x="397.93" y="379.23" width="5.88" height="6.13" fill="#003cff"/>
<rect x="403.51" y="379.23" width="5.88" height="6.13" fill="#0090ff"/>
<rect x="409.10" y="379.23" width="5.88" height="6.13" fill="#19ffe6"/>
<rect x="414.68" y="379.23" width="5.88" height="6.13" fill="#0080ff"/>
<rect x="420.26" y="379.23" width="5.88" height="6.13" fill="#0044ff"/>
<rect x="425.85" y="379.23" width="5.88" height="6.13" fill="#002aff"/>
<rect x="431.44" y="379.23" width="5.88" height="6.13" fill="#0019ff"/>
<rect x="437.02" y="379.23" width="5.88" height="6.13" fill="#0019ff"/>
<rect x="442.61" y="379.23" width="5.88" height="6.13" fill="#0080ff"/>
<rect x="448.19" y="379.23" width="5.88" height="6.13" fill="#0000ff"/>
<rect x="453.77" y="379.23" width="5.88" height="6.13" fill="#00008b"/>
<rect x="459.36" y="379.23" width="5.88" height="6.13" fill="#0000a3"/>
<rect x="464.94" y="379.23" width="5.88" height="6.13" fill="#00008b"/>
<rect x="470.53" y="379.23" width="5.88" height="6.13" fill="#00008b"/>
<rect x="476.12" y="379.23" width="5.88" height="6.13" fill="#00008b"/>
<rect x="370.00" y="385.06" width="5.88" height="6.13" fill="#000080"/>
<rect x="375.58" y="385.06" width="5.88" height="6.13" fill="#000080"/>
<rect x="381.17" y="385.06" width="5.88" height="6.13" fill="#000080"/>
<rect x="386.75" y="385.06" width="5.88" height="6.13" fill="#000080"/>
<rect x="392.34" y="385.06" width="5.88" height="6.13" fill="#00008b"/>
<rect x="397.93" y="385.06" width="5.88" height="6.13" fill="#000097"/>
<rect x="403.51" y="385.06" width="5.88" height="6.13" fill="#003cff"/>
<rect x="409.10" y="385.06" width="5.88" height="6.13" fill="#0011ff"/>
<rect x="414.68" y="385.06" width="5.88" height="6.13" fill="#0011ff"/>
<rect x="420.26" y="385.06" width="5.88" height="6.13" fill="#0080ff"/>
<rect x="425.85" y="385.06" width="5.88" height="6.13" fill="#003cff"/>
<rect x="431.44" y="385.06" width="5.88" height="6.13" fill="#0000ff"/>
<rect x="437.02" y="385.06" width="5.88" height="6.13" fill="#00008b"/>
<rect x="442.61" y="385.06" width="5.88" height="6.13" fill="#00008b"/>
<rect x="448.19" y="385.06" width="5.88" height="6.13" fill="#0000a3"/>
<rect x="453.77" y="385.06" width="5.88" height="6.13" fill="#0000f6"/>
<rect x="459.36" y="385.06" width="5.88" height="6.13" fill="#0008ff"/>
<rect x="464.94" y="385.06" width="5.88" height="6.13" fill="#0000af"/>
<rect x="470.53" y="385.06" width="5.88" height="6.13" fill="#0000af"/>
<rect x="476.12" y="385.06" width="5.88" height="6.13" fill="#00008b"/>
<rect x="370.00" y="390.89" width="5.88" height="6.13" fill="#000080"/>
<rect x="375.58" y="390.89" width="5.88" height="6.13" fill="#000080"/>
<rect x="381.17" y="390.89" width="5.88" height="6.13" fill="#00008b"/>
<rect x="386.75" y="390.89" width="5.88" height="6.13" fill="#00008b"/>
<rect x="392.34" y="390.89" width="5.88" height="6.13" fill="#0000af"/>
<rect x="397.93" y="390.89" width="5.88" height="6.13" fill="#0000c7"/>
<rect x="403.51" y="390.89" width="5.88" height="6.13" fill="#00008b"/>
<rect x="409.10" y="390.89" width="5.88" height="6.13" fill="#0000af"/>
<rect x="414.68" y="390.89" width="5.88" height="6.13" fill="#0008ff"/>
<rect x="420.26" y="390.89" width="5.88" height="6.13" fill="#006eff"/>
<rect x="425.85" y="390.89" width="5.88" height="6.13" fill="#0000ff"/>
<rect x="431.44" y="390.89" width="5.88" height="6.13" fill="#005eff"/>
<rect x="437.02" y="390.89" width="5.88" height="6.13" fill="#005eff"/>
<rect x="442.61" y="390.89" width="5.88" height="6.13" fill="#0000ee"/>
<rect x="448.19" y="390.89" width="5.88" height="6.13" fill="#0000e5"/>
<rect x="453.77" y="390.89" width="5.88" height="6.13" fill="#0000bb"/>
<rect x="459.36" y="390.89" width="5.88" height="6.13" fill="#00008b"/>
<rect x="464.94" y="390.89" width="5.88" height="6.13" fill="#0000af"/>
<rect x="470.53" y="390.89" width="5.88" height="6.13" fill="#00008b"/>
<rect x="476.12" y="390.89" width="5.88" height="6.13" fill="#00008b"/>
<rect x="370.00" y="396.72" width="5.88" height="6.13" fill="#000080"/>
<rect x="375.58" y="396.72" width="5.88" height="6.13" fill="#000080"/>
<rect x="381.17" y="396.72" width="5.88" height="6.13" fill="#00008b"/>
<rect x="386.75" y="396.72" width="5.88" height="6.13" fill="#000080"/>
<rect x="392.34" y="396.72" width="5.88" height="6.13" fill="#00008b"/>
<rect x="397.93" y="396.72" width="5.88" height="6.13" fill="#0008ff"/>
<rect x="403.51" y="396.72" width="5.88" height="6.13" fill="#0000c7"/>
<rect x="409.10" y="396.72" width="5.88" height="6.13" fill="#004cff"/>
<rect x="414.68" y="396.72" width="5.88" height="6.13" fill="#0000bb"/>
<rect x="420.26" y="396.72" width="5.88" height="6.13" fill="#000097"/>
<rect x="425.85" y="396.72" width="5.88" height="6.13" fill="#0000e5"/>
<rect x="431.44" y="396.72" width="5.88" height="6.13" fill="#0000af"/>
<rect x="437.02" y="396.72" width="5.88" height="6.13" fill="#0000af"/>
<rect x="442.61" y="396.72" width="5.88" height="6.13" fill="#000097"/>
<rect x="448.19" y="396.72" width="5.88" height="6.13" fill="#0000ff"/>
<rect x="453.77" y="396.72" width="5.88" height="6.13" fill="#00008b"/>
<rect x="459.36" y="396.72" width="5.88" height="6.13" fill="#000080"/>
<rect x="464.94" y="396.72" width="5.88" height="6.13" fill="#00008b"/>
<rect x="470.53" y="396.72" width="5.88" height="6.13" fill="#000080"/>
<rect x="476.12" y="396.72" width="5.88" height="6.13" fill="#000080"/>
<rect x="370.00" y="402.55" width="5.88" height="6.13" fill="#000080"/>
<rect x="375.58" y="402.55" width="5.88" height="6.13" fill="#000080"/>
<rect x="381.17" y="402.55" width="5.88" height="6.13" fill="#0008ff"/>
<rect x="386.75" y="402.55" width="5.88" height="6.13" fill="#0008ff"/>
<rect x="392.34" y="402.55" width="5.88" height="6.13" fill="#0080ff"/>
<rect x="397.93" y="402.55" width="5.88" height="6.13" fill="#000097"/>
<rect x="403.51" y="402.55" width="5.88" height="6.13" fill="#0000af"/>
<rect x="409.10" y="402.55" width="5.88" height="6.13" fill="#0000ff"/>
<rect x="414.68" y="402.55" width="5.88" height="6.13" fill="#00008b"/>
<rect x="420.26" y="402.55" width="5.88" height="6.13" fill="#0000c7"/>
<rect x="425.85" y="402.55" width="5.88" height="6.13" fill="#00008b"/>
<rect x="431.44" y="402.55" width="5.88" height="6.13" fill="#00008b"/>
<rect x="437.02" y="402.55" width="5.88" height="6.13" fill="#00008b"/>
<rect x="442.61" y="402.55" width="5.88" height="6.13" fill="#00008b"/>
<rect x="448.19" y="402.55" width="5.88" height="6.13" fill="#00008b"/>
<rect x="453.77" y="402.55" width="5.88" height="6.13" fill="#00008b"/>
<rect x="459.36" y="402.55" width="5.88" height="6.13" fill="#0000c7"/>
<rect x="464.94" y="402.55" width="5.88" height="6.13" fill="#0000c7"/>
<rect x="470.53" y="402.55" width="5.88" height="6.13" fill="#000097"/>
<rect x="476.12" y="402.55" width="5.88" height="6.13" fill="#0000af"/>
<rect x="370.00" y="408.38" width="5.88" height="6.13" fill="#000080"/>
<rect x="375.58" y="408.38" width="5.88" height="6.13" fill="#000080"/>
<rect x="381.17" y="408.38" width="5.88" height="6.13" fill="#00008b"/>
<rect x="386.75" y="408.38" width="5.88" height="6.13" fill="#00008b"/>
<rect x="392.34" y="408.38" width="5.88" height="6.13" fill="#0000e5"/>
<rect x="397.93" y="408.38" width="5.88" height="6.13" fill="#00008b"/>
<rect x="403.51" y="408.38" width="5.88" height="6.13" fill="#00008b"/>
<rect x="409.10" y="408.38" width="5.88" height="6.13" fill="#00008b"/>
<rect x="414.68" y="408.38" width="5.88" height="6.13" fill="#000080"/>
<rect x="420.26" y="408.38" width="5.88" height="6.13" fill="#000080"/>
<rect x="425.85" y="408.38" width="5.88" height="6.13" fill="#0000e5"/>
<rect x="431.44" y="408.38" width="5.88" height="6.13" fill="#0000a3"/>
<rect x="437.02" y="408.38" width="5.88" height="6.13" fill="#000097"/>
<rect x="442.61" y="408.38" width="5.88" height="6.13" fill="#00008b"/>
<rect x="448.19" y="408.38" width="5.88" height="6.13" fill="#000080"/>
<rect x="453.77" y="408.38" width="5.88" height="6.13" fill="#000080"/>
<rect x="459.36" y="408.38" width="5.88" height="6.13" fill="#0000ee"/>
<rect x="464.94" y="408.38" width="5.88" height="6.13" fill="#0000c7"/>
<rect x="470.53" y="408.38" width="5.88" height="6.13" fill="#002aff"/>
<rect x="476.12" y="408.38" width="5.88" height="6.13" fill="#0000ee"/>
<rect x="370.00" y="414.21" width="5.88" height="6.13" fill="#000080"/>
<rect x="375.58" y="414.21" width="5.88" height="6.13" fill="#000080"/>
<rect x="381.17" y="414.21" width="5.88" height="6.13" fill="#0000bb"/>
<rect x="386.75" y="414.21" width="5.88" height="6.13" fill="#0000a3"/>
<rect x="392.34" y="414.21" width="5.88" height="6.13" fill="#00008b"/>
<rect x="397.93" y="414.21" width="5.88" height="6.13" fill="#0000ee"/>
<rect x="403.51" y="414.21" width="5.88" height="6.13" fill="#0000ee"/>
<rect x="409.10" y="414.21" width="5.88" height="6.13" fill="#0000ff"/>
<rect x="414.68" y="414.21" width="5.88" height="6.13" fill="#00008b"/>
<rect x="420.26" y="414.21" width="5.88" height="6.13" fill="#00008b"/>
<rect x="425.85" y="414.21" width="5.88" height="6.13" fill="#0000e5"/>
<rect x="431.44" y="414.21" width="5.88" height="6.13" fill="#0000ff"/>
<rect x="437.02" y="414.21" width="5.88" height="6.13" fill="#0000ff"/>
<rect x="442.61" y="414.21" width="5.88" height="6.13" fill="#00008b"/>
<rect x="448.19" y="414.21" width="5.88" height="6.13" fill="#000080"/>
<rect x="453.77" y="414.21" width="5.88" height="6.13" fill="#000080"/>
<rect x="459.36" y="414.21" width="5.88" height="6.13" fill="#000080"/>
<rect x="464.94" y="414.21" width="5.88" height="6.13" fill="#000080"/>
<rect x="470.53" y="414.21" width="5.88" height="6.13" fill="#000080"/>
<rect x="476.12" y="414.21" width="5.88" height="6.13" fill="#000080"/>
<rect x="370.00" y="420.04" width="5.88" height="6.13" fill="#00008b"/>
<rect x="375.58" y="420.04" width="5.88" height="6.13" fill="#0000ff"/>
<rect x="381.17" y="420.04" width="5.88" height="6.13" fill="#0000af"/>
<rect x="386.75" y="420.04" width="5.88" height="6.13" fill="#0000af"/>
<rect x="392.34" y="420.04" width="5.88" height="6.13" fill="#00008b"/>
<rect x="397.93" y="420.04" width="5.88" height="6.13" fill="#00008b"/>
<rect x="403.51" y="420.04" width="5.88" height="6.13" fill="#0000c7"/>
<rect x="409.10" y="420.04" width="5.88" height="6.13" fill="#00008b"/>
<rect x="414.68" y="420.04" width="5.88" height="6.13" fill="#00008b"/>
<rect x="420.26" y="420.04" width="5.88" height="6.13" fill="#00008b"/>
<rect x="425.85" y="420.04" width="5.88" height="6.13" fill="#0000c7"/>
<rect x="431.44" y="420.04" width="5.88" height="6.13" fill="#0000c7"/>
<rect x="437.02" y="420.04" width="5.88" height="6.13" fill="#00008b"/>
<rect x="442.61" y="420.04" width="5.88" height="6.13" fill="#000080"/>
<rect x="448.19" y="420.04" width="5.88" height="6.13" fill="#000080"/>
<rect x="453.77" y="420.04" width="5.88" height="6.13" fill="#000080"/>
<rect x="459.36" y="420.04" width="5.88" height="6.13" fill="#000080"/>
<rect x="464.94" y="420.04" width="5.88" height="6.13" fill="#000080"/>
<rect x="470.53" y="420.04" width="5.88" height="6.13" fill="#000080"/>
<rect x="476.12" y="420.04" width="5.88" height="6.13" fill="#000080"/>
<rect x="370.00" y="425.87" width="5.88" height="6.13" fill="#0000ee"/>
<rect x="375.58" y="425.87" width="5.88" height="6.13" fill="#0000ee"/>
<rect x="381.17" y="425.87" width="5.88" height="6.13" fill="#0000af"/>
<rect x="386.75" y="425.87" width="5.88" height="6.13" fill="#00008b"/>
<rect x="392.34" y="425.87" width="5.88" height="6.13" fill="#000080"/>
<rect x="397.93" y="425.87" width="5.88" height="6.13" fill="#000080"/>
<rect x="403.51" y="425.87" width="5.88" height="6.13" fill="#000080"/>
<rect x="409.10" y="425.87" width="5.88" height="6.13" fill="#00008b"/>
<rect x="414.68" y="425.87" width="5.88" height="6.13" fill="#0000ee"/>
<rect x="420.26" y="425.87" width="5.88" height="6.13" fill="#00008b"/>
<rect x="425.85" y="425.87" width="5.88" height="6.13" fill="#0000c7"/>
<rect x="431.44" y="425.87" width="5.88" height="6.13" fill="#0008ff"/>
<rect x="437.02" y="425.87" width="5.88" height="6.13" fill="#00008b"/>
<rect x="442.61" y="425.87" width="5.88" height="6.13" fill="#000080"/>
<rect x="448.19" y="425.87" width="5.88" height="6.13" fill="#000080"/>
<rect x="453.77" y="425.87" width="5.88" height="6.13" fill="#000080"/>
<rect x="459.36" y="425.87" width="5.88" height="6.13" fill="#000080"/>
<rect x="464.94" y="425.87" width="5.88" height="6.13" fill="#000080"/>
<rect x="470.53" y="425.87" width="5.88" height="6.13" fill="#000080"/>
<rect x="476.12" y="425.87" width="5.88" height="6.13" fill="#000080"/>
</g>
<line x1="370.00" y1="376.32" x2="481.70" y2="376.32" stroke="#ff0000" stroke-width="2.8"/>
<line x1="428.64" y1="315.10" x2="428.64" y2="431.70" stroke="#10b04c" stroke-width="2.9"/>
<line x1="368.40" y1="318.50" x2="370.00" y2="318.50" stroke="#555" stroke-width="0.8"/>
<line x1="323.20" y1="318.50" x2="324.40" y2="318.50" stroke="#666" stroke-width="0.8"/>
<line x1="368.40" y1="333.80" x2="370.00" y2="333.80" stroke="#555" stroke-width="0.8"/>
<line x1="323.20" y1="333.80" x2="324.40" y2="333.80" stroke="#666" stroke-width="0.8"/>
<line x1="368.40" y1="349.10" x2="370.00" y2="349.10" stroke="#555" stroke-width="0.8"/>
<line x1="323.20" y1="349.10" x2="324.40" y2="349.10" stroke="#666" stroke-width="0.8"/>
<line x1="368.40" y1="364.40" x2="370.00" y2="364.40" stroke="#555" stroke-width="0.8"/>
<line x1="323.20" y1="364.40" x2="324.40" y2="364.40" stroke="#666" stroke-width="0.8"/>
<line x1="368.40" y1="379.70" x2="370.00" y2="379.70" stroke="#555" stroke-width="0.8"/>
<line x1="323.20" y1="379.70" x2="324.40" y2="379.70" stroke="#666" stroke-width="0.8"/>
<line x1="368.40" y1="395.00" x2="370.00" y2="395.00" stroke="#555" stroke-width="0.8"/>
<line x1="323.20" y1="395.00" x2="324.40" y2="395.00" stroke="#666" stroke-width="0.8"/>
<line x1="368.40" y1="410.30" x2="370.00" y2="410.30" stroke="#555" stroke-width="0.8"/>
<line x1="323.20" y1="410.30" x2="324.40" y2="410.30" stroke="#666" stroke-width="0.8"/>
<line x1="368.40" y1="425.60" x2="370.00" y2="425.60" stroke="#555" stroke-width="0.8"/>
<line x1="323.20" y1="425.60" x2="324.40" y2="425.60" stroke="#666" stroke-width="0.8"/>
<rect x="368.5" y="268.0" width="114.70" height="38.50" fill="#fff" stroke="#8c8c8c" stroke-width="1"/>
<line x1="379.50" y1="306.50" x2="379.50" y2="308.30" stroke="#666" stroke-width="0.8"/>
<line x1="406.80" y1="306.50" x2="406.80" y2="308.30" stroke="#666" stroke-width="0.8"/>
<line x1="434.10" y1="306.50" x2="434.10" y2="308.30" stroke="#666" stroke-width="0.8"/>
<line x1="461.40" y1="306.50" x2="461.40" y2="308.30" stroke="#666" stroke-width="0.8"/>
<polyline points="373.1,302.5 378.7,301.7 384.4,300.5 389.8,298.9 395.3,296.2 400.7,292.8 406.5,288.8 411.6,284.8 417.4,281.4 423.0,278.7 429.0,277.9 433.9,279.4 439.1,281.9 444.8,285.3 450.3,289.3 455.5,293.0 461.2,296.0 466.7,298.2 472.4,299.9 478.1,301.5" fill="none" stroke="#3a3ae0" stroke-width="1.1"/>
<polyline points="373.1,300.2 378.7,293.3 384.4,298.7 389.8,292.3 395.3,292.8 400.7,289.6 406.5,283.6 411.6,283.8 417.4,289.6 423.0,282.4 428.5,278.4 433.9,275.9 439.1,273.4 444.8,269.5 450.9,283.5 456.5,295.5 462.0,299.0 467.6,293.8 473.2,304.9 478.8,294.3" fill="none" stroke="#e03030" stroke-width="1.1"/>
<rect x="324.4" y="315.3" width="38.20" height="116.70" fill="#fff" stroke="#8c8c8c" stroke-width="1"/>
<clipPath id="lc1"><rect x="324.4" y="315.3" width="38.20" height="116.70"/></clipPath>
<g clip-path="url(#lc1)">
<polyline points="362.5,328.7 358.1,336.7 352.8,342.8 344.7,351.4 338.1,358.1 334.0,363.5 333.0,368.8 335.8,377.1 340.7,384.2 346.4,391.3 352.8,398.4 357.8,405.5 360.6,412.6 362.5,419.7" fill="none" stroke="#3a3ae0" stroke-width="1.0"/>
<polyline points="361.4,315.6 359.7,321.4 352.1,327.1 355.4,333.8 353.0,338.7 344.7,345.4 348.7,352.1 344.7,358.1 335.4,362.1 330.7,364.1 331.4,369.5 335.1,375.7 341.4,382.8 339.3,388.5 348.6,396.3 354.2,399.1 359.2,402.0 362.3,406.9 352.8,412.6 358.5,419.7 352.1,425.4 362.1,431.4" fill="none" stroke="#1f8a2a" stroke-width="1.5"/>
</g>
<text x="324.98" y="292.6" font-size="13.6" font-style="italic" fill="#1a1a1a">t</text>
<text x="328.44" y="292.6" font-size="13.6" fill="#1a1a1a">=80 s</text>
<g shape-rendering="crispEdges" filter="url(#hblur)">
<rect x="535.90" y="314.40" width="5.88" height="6.13" fill="#00008b"/>
<rect x="541.49" y="314.40" width="5.88" height="6.13" fill="#006eff"/>
<rect x="547.07" y="314.40" width="5.88" height="6.13" fill="#006eff"/>
<rect x="552.65" y="314.40" width="5.88" height="6.13" fill="#0000ee"/>
<rect x="558.24" y="314.40" width="5.88" height="6.13" fill="#0008ff"/>
<rect x="563.82" y="314.40" width="5.88" height="6.13" fill="#0000ff"/>
<rect x="569.41" y="314.40" width="5.88" height="6.13" fill="#000097"/>
<rect x="575.00" y="314.40" width="5.88" height="6.13" fill="#0000af"/>
<rect x="580.58" y="314.40" width="5.88" height="6.13" fill="#000097"/>
<rect x="586.16" y="314.40" width="5.88" height="6.13" fill="#0000f6"/>
<rect x="591.75" y="314.40" width="5.88" height="6.13" fill="#0000ff"/>
<rect x="597.34" y="314.40" width="5.88" height="6.13" fill="#0000ee"/>
<rect x="602.92" y="314.40" width="5.88" height="6.13" fill="#00008b"/>
<rect x="608.50" y="314.40" width="5.88" height="6.13" fill="#00008b"/>
<rect x="614.09" y="314.40" width="5.88" height="6.13" fill="#0000ff"/>
<rect x="619.67" y="314.40" width="5.88" height="6.13" fill="#00008b"/>
<rect x="625.26" y="314.40" width="5.88" height="6.13" fill="#000097"/>
<rect x="630.85" y="314.40" width="5.88" height="6.13" fill="#0000ee"/>
<rect x="636.43" y="314.40" width="5.88" height="6.13" fill="#0000f6"/>
<rect x="642.01" y="314.40" width="5.88" height="6.13" fill="#0000ee"/>
<rect x="535.90" y="320.23" width="5.88" height="6.13" fill="#0000c7"/>
<rect x="541.49" y="320.23" width="5.88" height="6.13" fill="#0008ff"/>
<rect x="547.07" y="320.23" width="5.88" height="6.13" fill="#00008b"/>
<rect x="552.65" y="320.23" width="5.88" height="6.13" fill="#0000af"/>
<rect x="558.24" y="320.23" width="5.88" height="6.13" fill="#0000f6"/>
<rect x="563.82" y="320.23" width="5.88" height="6.13" fill="#002aff"/>
<rect x="569.41" y="320.23" width="5.88" height="6.13" fill="#0000f6"/>
<rect x="575.00" y="320.23" width="5.88" height="6.13" fill="#0000f6"/>
<rect x="580.58" y="320.23" width="5.88" height="6.13" fill="#0000ee"/>
<rect x="586.16" y="320.23" width="5.88" height="6.13" fill="#000097"/>
<rect x="591.75" y="320.23" width="5.88" height="6.13" fill="#0000ff"/>
<rect x="597.34" y="320.23" width="5.88" height="6.13" fill="#0000ff"/>
<rect x="602.92" y="320.23" width="5.88" height="6.13" fill="#000080"/>
<rect x="608.50" y="320.23" width="5.88" height="6.13" fill="#000080"/>
<rect x="614.09" y="320.23" width="5.88" height="6.13" fill="#000080"/>
<rect x="619.67" y="320.23" width="5.88" height="6.13" fill="#000080"/>
<rect x="625.26" y="320.23" width="5.88" height="6.13" fill="#000080"/>
<rect x="630.85" y="320.23" width="5.88" height="6.13" fill="#0000ff"/>
<rect x="636.43" y="320.23" width="5.88" height="6.13" fill="#0000af"/>
<rect x="642.01" y="320.23" width="5.88" height="6.13" fill="#0000ff"/>
<rect x="535.90" y="326.06" width="5.88" height="6.13" fill="#0000f6"/>
<rect x="541.49" y="326.06" width="5.88" height="6.13" fill="#002aff"/>
<rect x="547.07" y="326.06" width="5.88" height="6.13" fill="#0000ff"/>
<rect x="552.65" y="326.06" width="5.88" height="6.13" fill="#00008b"/>
<rect x="558.24" y="326.06" width="5.88" height="6.13" fill="#00008b"/>
<rect x="563.82" y="326.06" width="5.88" height="6.13" fill="#0000bb"/>
<rect x="569.41" y="326.06" width="5.88" height="6.13" fill="#0000c7"/>
<rect x="575.00" y="326.06" width="5.88" height="6.13" fill="#003cff"/>
<rect x="580.58" y="326.06" width="5.88" height="6.13" fill="#0000af"/>
<rect x="586.16" y="326.06" width="5.88" height="6.13" fill="#0000c7"/>
<rect x="591.75" y="326.06" width="5.88" height="6.13" fill="#0000ff"/>
<rect x="597.34" y="326.06" width="5.88" height="6.13" fill="#0000ff"/>
<rect x="602.92" y="326.06" width="5.88" height="6.13" fill="#000080"/>
<rect x="608.50" y="326.06" width="5.88" height="6.13" fill="#000080"/>
<rect x="614.09" y="326.06" width="5.88" height="6.13" fill="#0000f6"/>
<rect x="619.67" y="326.06" width="5.88" height="6.13" fill="#0000ee"/>
<rect x="625.26" y="326.06" width="5.88" height="6.13" fill="#005eff"/>
<rect x="630.85" y="326.06" width="5.88" height="6.13" fill="#0000f6"/>
<rect x="636.43" y="326.06" width="5.88" height="6.13" fill="#0000c7"/>
<rect x="642.01" y="326.06" width="5.88" height="6.13" fill="#000097"/>
<rect x="535.90" y="331.89" width="5.88" height="6.13" fill="#0000ff"/>
<rect x="541.49" y="331.89" width="5.88" height="6.13" fill="#002aff"/>
<rect x="547.07" y="331.89" width="5.88" height="6.13" fill="#0000f6"/>
<rect x="552.65" y="331.89" width="5.88" height="6.13" fill="#00008b"/>
<rect x="558.24" y="331.89" width="5.88" height="6.13" fill="#0000a3"/>
<rect x="563.82" y="331.89" width="5.88" height="6.13" fill="#00008b"/>
<rect x="569.41" y="331.89" width="5.88" height="6.13" fill="#0000a3"/>
<rect x="575.00" y="331.89" width="5.88" height="6.13" fill="#0000af"/>
<rect x="580.58" y="331.89" width="5.88" height="6.13" fill="#0000af"/>
<rect x="586.16" y="331.89" width="5.88" height="6.13" fill="#0000ff"/>
<rect x="591.75" y="331.89" width="5.88" height="6.13" fill="#00e6ff"/>
<rect x="597.34" y="331.89" width="5.88" height="6.13" fill="#00eeff"/>
<rect x="602.92" y="331.89" width="5.88" height="6.13" fill="#0080ff"/>
<rect x="608.50" y="331.89" width="5.88" height="6.13" fill="#006eff"/>
<rect x="614.09" y="331.89" width="5.88" height="6.13" fill="#0000ff"/>
<rect x="619.67" y="331.89" width="5.88" height="6.13" fill="#0008ff"/>
<rect x="625.26" y="331.89" width="5.88" height="6.13" fill="#0019ff"/>
<rect x="630.85" y="331.89" width="5.88" height="6.13" fill="#0008ff"/>
<rect x="636.43" y="331.89" width="5.88" height="6.13" fill="#0008ff"/>
<rect x="642.01" y="331.89" width="5.88" height="6.13" fill="#0000ff"/>
<rect x="535.90" y="337.72" width="5.88" height="6.13" fill="#0008ff"/>
<rect x="541.49" y="337.72" width="5.88" height="6.13" fill="#0000c7"/>
<rect x="547.07" y="337.72" width="5.88" height="6.13" fill="#00008b"/>
<rect x="552.65" y="337.72" width="5.88" height="6.13" fill="#00008b"/>
<rect x="558.24" y="337.72" width="5.88" height="6.13" fill="#00008b"/>
<rect x="563.82" y="337.72" width="5.88" height="6.13" fill="#0000a3"/>
<rect x="569.41" y="337.72" width="5.88" height="6.13" fill="#003cff"/>
<rect x="575.00" y="337.72" width="5.88" height="6.13" fill="#0000ee"/>
<rect x="580.58" y="337.72" width="5.88" height="6.13" fill="#0000ee"/>
<rect x="586.16" y="337.72" width="5.88" height="6.13" fill="#0000bb"/>
<rect x="591.75" y="337.72" width="5.88" height="6.13" fill="#00d4ff"/>
<rect x="597.34" y="337.72" width="5.88" height="6.13" fill="#00d4ff"/>
<rect x="602.92" y="337.72" width="5.88" height="6.13" fill="#0090ff"/>
<rect x="608.50" y="337.72" width="5.88" height="6.13" fill="#0000f6"/>
<rect x="614.09" y="337.72" width="5.88" height="6.13" fill="#0000f6"/>
<rect x="619.67" y="337.72" width="5.88" height="6.13" fill="#0000c7"/>
<rect x="625.26" y="337.72" width="5.88" height="6.13" fill="#0000ee"/>
<rect x="630.85" y="337.72" width="5.88" height="6.13" fill="#0000f6"/>
<rect x="636.43" y="337.72" width="5.88" height="6.13" fill="#0000ee"/>
<rect x="642.01" y="337.72" width="5.88" height="6.13" fill="#0000bb"/>
<rect x="535.90" y="343.55" width="5.88" height="6.13" fill="#003cff"/>
<rect x="541.49" y="343.55" width="5.88" height="6.13" fill="#0000bb"/>
<rect x="547.07" y="343.55" width="5.88" height="6.13" fill="#00008b"/>
<rect x="552.65" y="343.55" width="5.88" height="6.13" fill="#0000f6"/>
<rect x="558.24" y="343.55" width="5.88" height="6.13" fill="#0000ee"/>
<rect x="563.82" y="343.55" width="5.88" height="6.13" fill="#006eff"/>
<rect x="569.41" y="343.55" width="5.88" height="6.13" fill="#006eff"/>
<rect x="575.00" y="343.55" width="5.88" height="6.13" fill="#005eff"/>
<rect x="580.58" y="343.55" width="5.88" height="6.13" fill="#0000f6"/>
<rect x="586.16" y="343.55" width="5.88" height="6.13" fill="#0000c7"/>
<rect x="591.75" y="343.55" width="5.88" height="6.13" fill="#0000ee"/>
<rect x="597.34" y="343.55" width="5.88" height="6.13" fill="#0000c7"/>
<rect x="602.92" y="343.55" width="5.88" height="6.13" fill="#0000ff"/>
<rect x="608.50" y="343.55" width="5.88" height="6.13" fill="#000080"/>
<rect x="614.09" y="343.55" width="5.88" height="6.13" fill="#0000af"/>
<rect x="619.67" y="343.55" width="5.88" height="6.13" fill="#0055ff"/>
<rect x="625.26" y="343.55" width="5.88" height="6.13" fill="#0000ff"/>
<rect x="630.85" y="343.55" width="5.88" height="6.13" fill="#0000f6"/>
<rect x="636.43" y="343.55" width="5.88" height="6.13" fill="#0000ee"/>
<rect x="642.01" y="343.55" width="5.88" height="6.13" fill="#00008b"/>
<rect x="535.90" y="349.38" width="5.88" height="6.13" fill="#000097"/>
<rect x="541.49" y="349.38" width="5.88" height="6.13" fill="#0000c7"/>
<rect x="547.07" y="349.38" width="5.88" height="6.13" fill="#0000ff"/>
<rect x="552.65" y="349.38" width="5.88" height="6.13" fill="#0000af"/>
<rect x="558.24" y="349.38" width="5.88" height="6.13" fill="#0000bb"/>
<rect x="563.82" y="349.38" width="5.88" height="6.13" fill="#0000ff"/>
<rect x="569.41" y="349.38" width="5.88" height="6.13" fill="#006eff"/>
<rect x="575.00" y="349.38" width="5.88" height="6.13" fill="#006eff"/>
<rect x="580.58" y="349.38" width="5.88" height="6.13" fill="#0090ff"/>
<rect x="586.16" y="349.38" width="5.88" height="6.13" fill="#0000f6"/>
<rect x="591.75" y="349.38" width="5.88" height="6.13" fill="#0000c7"/>
<rect x="597.34" y="349.38" width="5.88" height="6.13" fill="#003cff"/>
<rect x="602.92" y="349.38" width="5.88" height="6.13" fill="#0000ff"/>
<rect x="608.50" y="349.38" width="5.88" height="6.13" fill="#0000f6"/>
<rect x="614.09" y="349.38" width="5.88" height="6.13" fill="#0000f6"/>
<rect x="619.67" y="349.38" width="5.88" height="6.13" fill="#0080ff"/>
<rect x="625.26" y="349.38" width="5.88" height="6.13" fill="#002aff"/>
<rect x="630.85" y="349.38" width="5.88" height="6.13" fill="#0000f6"/>
<rect x="636.43" y="349.38" width="5.88" height="6.13" fill="#0000ee"/>
<rect x="642.01" y="349.38" width="5.88" height="6.13" fill="#0019ff"/>
<rect x="535.90" y="355.21" width="5.88" height="6.13" fill="#0000bb"/>
<rect x="541.49" y="355.21" width="5.88" height="6.13" fill="#002aff"/>
<rect x="547.07" y="355.21" width="5.88" height="6.13" fill="#0000c7"/>
<rect x="552.65" y="355.21" width="5.88" height="6.13" fill="#0000bb"/>
<rect x="558.24" y="355.21" width="5.88" height="6.13" fill="#0000ee"/>
<rect x="563.82" y="355.21" width="5.88" height="6.13" fill="#0000f6"/>
<rect x="569.41" y="355.21" width="5.88" height="6.13" fill="#0000ff"/>
<rect x="575.00" y="355.21" width="5.88" height="6.13" fill="#0044ff"/>
<rect x="580.58" y="355.21" width="5.88" height="6.13" fill="#0000f6"/>
<rect x="586.16" y="355.21" width="5.88" height="6.13" fill="#00c3ff"/>
<rect x="591.75" y="355.21" width="5.88" height="6.13" fill="#00c3ff"/>
<rect x="597.34" y="355.21" width="5.88" height="6.13" fill="#0099ff"/>
<rect x="602.92" y="355.21" width="5.88" height="6.13" fill="#003cff"/>
<rect x="608.50" y="355.21" width="5.88" height="6.13" fill="#003cff"/>
<rect x="614.09" y="355.21" width="5.88" height="6.13" fill="#0000c7"/>
<rect x="619.67" y="355.21" width="5.88" height="6.13" fill="#0008ff"/>
<rect x="625.26" y="355.21" width="5.88" height="6.13" fill="#002aff"/>
<rect x="630.85" y="355.21" width="5.88" height="6.13" fill="#0000ff"/>
<rect x="636.43" y="355.21" width="5.88" height="6.13" fill="#006eff"/>
<rect x="642.01" y="355.21" width="5.88" height="6.13" fill="#0000ff"/>
<rect x="535.90" y="361.04" width="5.88" height="6.13" fill="#0000e5"/>
<rect x="541.49" y="361.04" width="5.88" height="6.13" fill="#000097"/>
<rect x="547.07" y="361.04" width="5.88" height="6.13" fill="#000097"/>
<rect x="552.65" y="361.04" width="5.88" height="6.13" fill="#006eff"/>
<rect x="558.24" y="361.04" width="5.88" height="6.13" fill="#0000ff"/>
<rect x="563.82" y="361.04" width="5.88" height="6.13" fill="#006eff"/>
<rect x="569.41" y="361.04" width="5.88" height="6.13" fill="#0000f6"/>
<rect x="575.00" y="361.04" width="5.88" height="6.13" fill="#0000ff"/>
<rect x="580.58" y="361.04" width="5.88" height="6.13" fill="#006eff"/>
<rect x="586.16" y="361.04" width="5.88" height="6.13" fill="#0080ff"/>
<rect x="591.75" y="361.04" width="5.88" height="6.13" fill="#0080ff"/>
<rect x="597.34" y="361.04" width="5.88" height="6.13" fill="#005eff"/>
<rect x="602.92" y="361.04" width="5.88" height="6.13" fill="#0000ee"/>
<rect x="608.50" y="361.04" width="5.88" height="6.13" fill="#0044ff"/>
<rect x="614.09" y="361.04" width="5.88" height="6.13" fill="#0044ff"/>
<rect x="619.67" y="361.04" width="5.88" height="6.13" fill="#006eff"/>
<rect x="625.26" y="361.04" width="5.88" height="6.13" fill="#005eff"/>
<rect x="630.85" y="361.04" width="5.88" height="6.13" fill="#0044ff"/>
<rect x="636.43" y="361.04" width="5.88" height="6.13" fill="#00008b"/>
<rect x="642.01" y="361.04" width="5.88" height="6.13" fill="#0000af"/>
<rect x="535.90" y="366.87" width="5.88" height="6.13" fill="#000097"/>
<rect x="541.49" y="366.87" width="5.88" height="6.13" fill="#0000c7"/>
<rect x="547.07" y="366.87" width="5.88" height="6.13" fill="#0000ff"/>
<rect x="552.65" y="366.87" width="5.88" height="6.13" fill="#006eff"/>
<rect x="558.24" y="366.87" width="5.88" height="6.13" fill="#0000ff"/>
<rect x="563.82" y="366.87" width="5.88" height="6.13" fill="#80ff80"/>
<rect x="569.41" y="366.87" width="5.88" height="6.13" fill="#00ffff"/>
<rect x="575.00" y="366.87" width="5.88" height="6.13" fill="#006eff"/>
<rect x="580.58" y="366.87" width="5.88" height="6.13" fill="#99ff66"/>
<rect x="586.16" y="366.87" width="5.88" height="6.13" fill="#006eff"/>
<rect x="591.75" y="366.87" width="5.88" height="6.13" fill="#55ffaa"/>
<rect x="597.34" y="366.87" width="5.88" height="6.13" fill="#00eeff"/>
<rect x="602.92" y="366.87" width="5.88" height="6.13" fill="#0090ff"/>
<rect x="608.50" y="366.87" width="5.88" height="6.13" fill="#006eff"/>
<rect x="614.09" y="366.87" width="5.88" height="6.13" fill="#0044ff"/>
<rect x="619.67" y="366.87" width="5.88" height="6.13" fill="#006eff"/>
<rect x="625.26" y="366.87" width="5.88" height="6.13" fill="#0008ff"/>
<rect x="630.85" y="366.87" width="5.88" height="6.13" fill="#0000ff"/>
<rect x="636.43" y="366.87" width="5.88" height="6.13" fill="#0000ff"/>
<rect x="642.01" y="366.87" width="5.88" height="6.13" fill="#0000f6"/>
<rect x="535.90" y="372.70" width="5.88" height="6.13" fill="#0000ff"/>
<rect x="541.49" y="372.70" width="5.88" height="6.13" fill="#002aff"/>
<rect x="547.07" y="372.70" width="5.88" height="6.13" fill="#0000ee"/>
<rect x="552.65" y="372.70" width="5.88" height="6.13" fill="#0019ff"/>
<rect x="558.24" y="372.70" width="5.88" height="6.13" fill="#003cff"/>
<rect x="563.82" y="372.70" width="5.88" height="6.13" fill="#005eff"/>
<rect x="569.41" y="372.70" width="5.88" height="6.13" fill="#005eff"/>
<rect x="575.00" y="372.70" width="5.88" height="6.13" fill="#0000ff"/>
<rect x="580.58" y="372.70" width="5.88" height="6.13" fill="#00e6ff"/>
<rect x="586.16" y="372.70" width="5.88" height="6.13" fill="#19ffe6"/>
<rect x="591.75" y="372.70" width="5.88" height="6.13" fill="#00d4ff"/>
<rect x="597.34" y="372.70" width="5.88" height="6.13" fill="#00c3ff"/>
<rect x="602.92" y="372.70" width="5.88" height="6.13" fill="#0080ff"/>
<rect x="608.50" y="372.70" width="5.88" height="6.13" fill="#006eff"/>
<rect x="614.09" y="372.70" width="5.88" height="6.13" fill="#003cff"/>
<rect x="619.67" y="372.70" width="5.88" height="6.13" fill="#0019ff"/>
<rect x="625.26" y="372.70" width="5.88" height="6.13" fill="#0000f6"/>
<rect x="630.85" y="372.70" width="5.88" height="6.13" fill="#0000c7"/>
<rect x="636.43" y="372.70" width="5.88" height="6.13" fill="#0000c7"/>
<rect x="642.01" y="372.70" width="5.88" height="6.13" fill="#0000c7"/>
<rect x="535.90" y="378.53" width="5.88" height="6.13" fill="#0000ff"/>
<rect x="541.49" y="378.53" width="5.88" height="6.13" fill="#003cff"/>
<rect x="547.07" y="378.53" width="5.88" height="6.13" fill="#000097"/>
<rect x="552.65" y="378.53" width="5.88" height="6.13" fill="#0000ee"/>
<rect x="558.24" y="378.53" width="5.88" height="6.13" fill="#000097"/>
<rect x="563.82" y="378.53" width="5.88" height="6.13" fill="#0000ff"/>
<rect x="569.41" y="378.53" width="5.88" height="6.13" fill="#0000ff"/>
<rect x="575.00" y="378.53" width="5.88" height="6.13" fill="#0000ee"/>
<rect x="580.58" y="378.53" width="5.88" height="6.13" fill="#0055ff"/>
<rect x="586.16" y="378.53" width="5.88" height="6.13" fill="#002aff"/>
<rect x="591.75" y="378.53" width="5.88" height="6.13" fill="#00d4ff"/>
<rect x="597.34" y="378.53" width="5.88" height="6.13" fill="#00c3ff"/>
<rect x="602.92" y="378.53" width="5.88" height="6.13" fill="#006eff"/>
<rect x="608.50" y="378.53" width="5.88" height="6.13" fill="#006eff"/>
<rect x="614.09" y="378.53" width="5.88" height="6.13" fill="#0008ff"/>
<rect x="619.67" y="378.53" width="5.88" height="6.13" fill="#0000ff"/>
<rect x="625.26" y="378.53" width="5.88" height="6.13" fill="#0000f6"/>
<rect x="630.85" y="378.53" width="5.88" height="6.13" fill="#0000bb"/>
<rect x="636.43" y="378.53" width="5.88" height="6.13" fill="#0000c7"/>
<rect x="642.01" y="378.53" width="5.88" height="6.13" fill="#0000c7"/>
<rect x="535.90" y="384.36" width="5.88" height="6.13" fill="#0000ee"/>
<rect x="541.49" y="384.36" width="5.88" height="6.13" fill="#0000ff"/>
<rect x="547.07" y="384.36" width="5.88" height="6.13" fill="#0008ff"/>
<rect x="552.65" y="384.36" width="5.88" height="6.13" fill="#002aff"/>
<rect x="558.24" y="384.36" width="5.88" height="6.13" fill="#002aff"/>
<rect x="563.82" y="384.36" width="5.88" height="6.13" fill="#0008ff"/>
<rect x="569.41" y="384.36" width="5.88" height="6.13" fill="#0090ff"/>
<rect x="575.00" y="384.36" width="5.88" height="6.13" fill="#0000ee"/>
<rect x="580.58" y="384.36" width="5.88" height="6.13" fill="#0008ff"/>
<rect x="586.16" y="384.36" width="5.88" height="6.13" fill="#0000f6"/>
<rect x="591.75" y="384.36" width="5.88" height="6.13" fill="#0000ff"/>
<rect x="597.34" y="384.36" width="5.88" height="6.13" fill="#006eff"/>
<rect x="602.92" y="384.36" width="5.88" height="6.13" fill="#000097"/>
<rect x="608.50" y="384.36" width="5.88" height="6.13" fill="#005eff"/>
<rect x="614.09" y="384.36" width="5.88" height="6.13" fill="#0000ff"/>
<rect x="619.67" y="384.36" width="5.88" height="6.13" fill="#0000ee"/>
<rect x="625.26" y="384.36" width="5.88" height="6.13" fill="#003cff"/>
<rect x="630.85" y="384.36" width="5.88" height="6.13" fill="#0000c7"/>
<rect x="636.43" y="384.36" width="5.88" height="6.13" fill="#00008b"/>
<rect x="642.01" y="384.36" width="5.88" height="6.13" fill="#0000af"/>
<rect x="535.90" y="390.19" width="5.88" height="6.13" fill="#0000ff"/>
<rect x="541.49" y="390.19" width="5.88" height="6.13" fill="#0000c7"/>
<rect x="547.07" y="390.19" width="5.88" height="6.13" fill="#000097"/>
<rect x="552.65" y="390.19" width="5.88" height="6.13" fill="#002aff"/>
<rect x="558.24" y="390.19" width="5.88" height="6.13" fill="#0055ff"/>
<rect x="563.82" y="390.19" width="5.88" height="6.13" fill="#0000ff"/>
<rect x="569.41" y="390.19" width="5.88" height="6.13" fill="#002aff"/>
<rect x="575.00" y="390.19" width="5.88" height="6.13" fill="#002aff"/>
<rect x="580.58" y="390.19" width="5.88" height="6.13" fill="#0000f6"/>
<rect x="586.16" y="390.19" width="5.88" height="6.13" fill="#0000ee"/>
<rect x="591.75" y="390.19" width="5.88" height="6.13" fill="#0000ff"/>
<rect x="597.34" y="390.19" width="5.88" height="6.13" fill="#003cff"/>
<rect x="602.92" y="390.19" width="5.88" height="6.13" fill="#0000f6"/>
<rect x="608.50" y="390.19" width="5.88" height="6.13" fill="#0080ff"/>
<rect x="614.09" y="390.19" width="5.88" height="6.13" fill="#0000f6"/>
<rect x="619.67" y="390.19" width="5.88" height="6.13" fill="#0044ff"/>
<rect x="625.26" y="390.19" width="5.88" height="6.13" fill="#004cff"/>
<rect x="630.85" y="390.19" width="5.88" height="6.13" fill="#0044ff"/>
<rect x="636.43" y="390.19" width="5.88" height="6.13" fill="#0000ee"/>
<rect x="642.01" y="390.19" width="5.88" height="6.13" fill="#0000c7"/>
<rect x="535.90" y="396.02" width="5.88" height="6.13" fill="#0000af"/>
<rect x="541.49" y="396.02" width="5.88" height="6.13" fill="#0000bb"/>
<rect x="547.07" y="396.02" width="5.88" height="6.13" fill="#0000bb"/>
<rect x="552.65" y="396.02" width="5.88" height="6.13" fill="#000097"/>
<rect x="558.24" y="396.02" width="5.88" height="6.13" fill="#0055ff"/>
<rect x="563.82" y="396.02" width="5.88" height="6.13" fill="#0000ff"/>
<rect x="569.41" y="396.02" width="5.88" height="6.13" fill="#0000ff"/>
<rect x="575.00" y="396.02" width="5.88" height="6.13" fill="#0000c7"/>
<rect x="580.58" y="396.02" width="5.88" height="6.13" fill="#0000ff"/>
<rect x="586.16" y="396.02" width="5.88" height="6.13" fill="#0000ee"/>
<rect x="591.75" y="396.02" width="5.88" height="6.13" fill="#0000ff"/>
<rect x="597.34" y="396.02" width="5.88" height="6.13" fill="#0090ff"/>
<rect x="602.92" y="396.02" width="5.88" height="6.13" fill="#0000f6"/>
<rect x="608.50" y="396.02" width="5.88" height="6.13" fill="#0080ff"/>
<rect x="614.09" y="396.02" width="5.88" height="6.13" fill="#0000f6"/>
<rect x="619.67" y="396.02" width="5.88" height="6.13" fill="#0000f6"/>
<rect x="625.26" y="396.02" width="5.88" height="6.13" fill="#0000c7"/>
<rect x="630.85" y="396.02" width="5.88" height="6.13" fill="#0000c7"/>
<rect x="636.43" y="396.02" width="5.88" height="6.13" fill="#0000ee"/>
<rect x="642.01" y="396.02" width="5.88" height="6.13" fill="#0000bb"/>
<rect x="535.90" y="401.85" width="5.88" height="6.13" fill="#003cff"/>
<rect x="541.49" y="401.85" width="5.88" height="6.13" fill="#003cff"/>
<rect x="547.07" y="401.85" width="5.88" height="6.13" fill="#003cff"/>
<rect x="552.65" y="401.85" width="5.88" height="6.13" fill="#0090ff"/>
<rect x="558.24" y="401.85" width="5.88" height="6.13" fill="#006eff"/>
<rect x="563.82" y="401.85" width="5.88" height="6.13" fill="#0000c7"/>
<rect x="569.41" y="401.85" width="5.88" height="6.13" fill="#0000ee"/>
<rect x="575.00" y="401.85" width="5.88" height="6.13" fill="#000097"/>
<rect x="580.58" y="401.85" width="5.88" height="6.13" fill="#002aff"/>
<rect x="586.16" y="401.85" width="5.88" height="6.13" fill="#0000f6"/>
<rect x="591.75" y="401.85" width="5.88" height="6.13" fill="#0000ff"/>
<rect x="597.34" y="401.85" width="5.88" height="6.13" fill="#000097"/>
<rect x="602.92" y="401.85" width="5.88" height="6.13" fill="#0000f6"/>
<rect x="608.50" y="401.85" width="5.88" height="6.13" fill="#003cff"/>
<rect x="614.09" y="401.85" width="5.88" height="6.13" fill="#0000c7"/>
<rect x="619.67" y="401.85" width="5.88" height="6.13" fill="#000080"/>
<rect x="625.26" y="401.85" width="5.88" height="6.13" fill="#0000ee"/>
<rect x="630.85" y="401.85" width="5.88" height="6.13" fill="#0000c7"/>
<rect x="636.43" y="401.85" width="5.88" height="6.13" fill="#0044ff"/>
<rect x="642.01" y="401.85" width="5.88" height="6.13" fill="#000097"/>
<rect x="535.90" y="407.68" width="5.88" height="6.13" fill="#0044ff"/>
<rect x="541.49" y="407.68" width="5.88" height="6.13" fill="#0000f6"/>
<rect x="547.07" y="407.68" width="5.88" height="6.13" fill="#000097"/>
<rect x="552.65" y="407.68" width="5.88" height="6.13" fill="#0000af"/>
<rect x="558.24" y="407.68" width="5.88" height="6.13" fill="#0000af"/>
<rect x="563.82" y="407.68" width="5.88" height="6.13" fill="#0000ff"/>
<rect x="569.41" y="407.68" width="5.88" height="6.13" fill="#0055ff"/>
<rect x="575.00" y="407.68" width="5.88" height="6.13" fill="#0000ee"/>
<rect x="580.58" y="407.68" width="5.88" height="6.13" fill="#000097"/>
<rect x="586.16" y="407.68" width="5.88" height="6.13" fill="#0000f6"/>
<rect x="591.75" y="407.68" width="5.88" height="6.13" fill="#0000ff"/>
<rect x="597.34" y="407.68" width="5.88" height="6.13" fill="#0000ff"/>
<rect x="602.92" y="407.68" width="5.88" height="6.13" fill="#0000ff"/>
<rect x="608.50" y="407.68" width="5.88" height="6.13" fill="#0000ff"/>
<rect x="614.09" y="407.68" width="5.88" height="6.13" fill="#0000c7"/>
<rect x="619.67" y="407.68" width="5.88" height="6.13" fill="#0000ee"/>
<rect x="625.26" y="407.68" width="5.88" height="6.13" fill="#005eff"/>
<rect x="630.85" y="407.68" width="5.88" height="6.13" fill="#0022ff"/>
<rect x="636.43" y="407.68" width="5.88" height="6.13" fill="#0000ff"/>
<rect x="642.01" y="407.68" width="5.88" height="6.13" fill="#0000f6"/>
<rect x="535.90" y="413.51" width="5.88" height="6.13" fill="#0000c7"/>
<rect x="541.49" y="413.51" width="5.88" height="6.13" fill="#0000f6"/>
<rect x="547.07" y="413.51" width="5.88" height="6.13" fill="#0000ee"/>
<rect x="552.65" y="413.51" width="5.88" height="6.13" fill="#00008b"/>
<rect x="558.24" y="413.51" width="5.88" height="6.13" fill="#00008b"/>
<rect x="563.82" y="413.51" width="5.88" height="6.13" fill="#002aff"/>
<rect x="569.41" y="413.51" width="5.88" height="6.13" fill="#0000af"/>
<rect x="575.00" y="413.51" width="5.88" height="6.13" fill="#0000bb"/>
<rect x="580.58" y="413.51" width="5.88" height="6.13" fill="#0000ee"/>
<rect x="586.16" y="413.51" width="5.88" height="6.13" fill="#0000ff"/>
<rect x="591.75" y="413.51" width="5.88" height="6.13" fill="#005eff"/>
<rect x="597.34" y="413.51" width="5.88" height="6.13" fill="#0080ff"/>
<rect x="602.92" y="413.51" width="5.88" height="6.13" fill="#002aff"/>
<rect x="608.50" y="413.51" width="5.88" height="6.13" fill="#0000ff"/>
<rect x="614.09" y="413.51" width="5.88" height="6.13" fill="#0000af"/>
<rect x="619.67" y="413.51" width="5.88" height="6.13" fill="#0000c7"/>
<rect x="625.26" y="413.51" width="5.88" height="6.13" fill="#0000ee"/>
<rect x="630.85" y="413.51" width="5.88" height="6.13" fill="#0000ff"/>
<rect x="636.43" y="413.51" width="5.88" height="6.13" fill="#000097"/>
<rect x="642.01" y="413.51" width="5.88" height="6.13" fill="#0000ee"/>
<rect x="535.90" y="419.34" width="5.88" height="6.13" fill="#0000f6"/>
<rect x="541.49" y="419.34" width="5.88" height="6.13" fill="#00aaff"/>
<rect x="547.07" y="419.34" width="5.88" height="6.13" fill="#0000ff"/>
<rect x="552.65" y="419.34" width="5.88" height="6.13" fill="#00008b"/>
<rect x="558.24" y="419.34" width="5.88" height="6.13" fill="#00008b"/>
<rect x="563.82" y="419.34" width="5.88" height="6.13" fill="#0000bb"/>
<rect x="569.41" y="419.34" width="5.88" height="6.13" fill="#0000ff"/>
<rect x="575.00" y="419.34" width="5.88" height="6.13" fill="#0000f6"/>
<rect x="580.58" y="419.34" width="5.88" height="6.13" fill="#0000af"/>
<rect x="586.16" y="419.34" width="5.88" height="6.13" fill="#000097"/>
<rect x="591.75" y="419.34" width="5.88" height="6.13" fill="#0000ff"/>
<rect x="597.34" y="419.34" width="5.88" height="6.13" fill="#0000ff"/>
<rect x="602.92" y="419.34" width="5.88" height="6.13" fill="#0000ff"/>
<rect x="608.50" y="419.34" width="5.88" height="6.13" fill="#0000f6"/>
<rect x="614.09" y="419.34" width="5.88" height="6.13" fill="#0000c7"/>
<rect x="619.67" y="419.34" width="5.88" height="6.13" fill="#0022ff"/>
<rect x="625.26" y="419.34" width="5.88" height="6.13" fill="#0000f6"/>
<rect x="630.85" y="419.34" width="5.88" height="6.13" fill="#0000f6"/>
<rect x="636.43" y="419.34" width="5.88" height="6.13" fill="#0000c7"/>
<rect x="642.01" y="419.34" width="5.88" height="6.13" fill="#000097"/>
<rect x="535.90" y="425.17" width="5.88" height="6.13" fill="#0000f6"/>
<rect x="541.49" y="425.17" width="5.88" height="6.13" fill="#0000ee"/>
<rect x="547.07" y="425.17" width="5.88" height="6.13" fill="#0000ff"/>
<rect x="552.65" y="425.17" width="5.88" height="6.13" fill="#0000bb"/>
<rect x="558.24" y="425.17" width="5.88" height="6.13" fill="#00008b"/>
<rect x="563.82" y="425.17" width="5.88" height="6.13" fill="#00008b"/>
<rect x="569.41" y="425.17" width="5.88" height="6.13" fill="#000097"/>
<rect x="575.00" y="425.17" width="5.88" height="6.13" fill="#0000c7"/>
<rect x="580.58" y="425.17" width="5.88" height="6.13" fill="#0000ff"/>
<rect x="586.16" y="425.17" width="5.88" height="6.13" fill="#000097"/>
<rect x="591.75" y="425.17" width="5.88" height="6.13" fill="#000097"/>
<rect x="597.34" y="425.17" width="5.88" height="6.13" fill="#000097"/>
<rect x="602.92" y="425.17" width="5.88" height="6.13" fill="#000097"/>
<rect x="608.50" y="425.17" width="5.88" height="6.13" fill="#0000af"/>
<rect x="614.09" y="425.17" width="5.88" height="6.13" fill="#00008b"/>
<rect x="619.67" y="425.17" width="5.88" height="6.13" fill="#0080ff"/>
<rect x="625.26" y="425.17" width="5.88" height="6.13" fill="#0000af"/>
<rect x="630.85" y="425.17" width="5.88" height="6.13" fill="#0000bb"/>
<rect x="636.43" y="425.17" width="5.88" height="6.13" fill="#0000ee"/>
<rect x="642.01" y="425.17" width="5.88" height="6.13" fill="#0000ff"/>
</g>
<line x1="594.54" y1="314.40" x2="594.54" y2="431.00" stroke="#10b04c" stroke-width="2.9"/>
<line x1="535.90" y1="375.62" x2="647.60" y2="375.62" stroke="#ff0000" stroke-width="2.2"/>
<line x1="534.30" y1="317.80" x2="535.90" y2="317.80" stroke="#555" stroke-width="0.8"/>
<line x1="489.30" y1="317.80" x2="490.50" y2="317.80" stroke="#666" stroke-width="0.8"/>
<line x1="534.30" y1="333.10" x2="535.90" y2="333.10" stroke="#555" stroke-width="0.8"/>
<line x1="489.30" y1="333.10" x2="490.50" y2="333.10" stroke="#666" stroke-width="0.8"/>
<line x1="534.30" y1="348.40" x2="535.90" y2="348.40" stroke="#555" stroke-width="0.8"/>
<line x1="489.30" y1="348.40" x2="490.50" y2="348.40" stroke="#666" stroke-width="0.8"/>
<line x1="534.30" y1="363.70" x2="535.90" y2="363.70" stroke="#555" stroke-width="0.8"/>
<line x1="489.30" y1="363.70" x2="490.50" y2="363.70" stroke="#666" stroke-width="0.8"/>
<line x1="534.30" y1="379.00" x2="535.90" y2="379.00" stroke="#555" stroke-width="0.8"/>
<line x1="489.30" y1="379.00" x2="490.50" y2="379.00" stroke="#666" stroke-width="0.8"/>
<line x1="534.30" y1="394.30" x2="535.90" y2="394.30" stroke="#555" stroke-width="0.8"/>
<line x1="489.30" y1="394.30" x2="490.50" y2="394.30" stroke="#666" stroke-width="0.8"/>
<line x1="534.30" y1="409.60" x2="535.90" y2="409.60" stroke="#555" stroke-width="0.8"/>
<line x1="489.30" y1="409.60" x2="490.50" y2="409.60" stroke="#666" stroke-width="0.8"/>
<line x1="534.30" y1="424.90" x2="535.90" y2="424.90" stroke="#555" stroke-width="0.8"/>
<line x1="489.30" y1="424.90" x2="490.50" y2="424.90" stroke="#666" stroke-width="0.8"/>
<rect x="534.4" y="267.4" width="115.10" height="39.10" fill="#fff" stroke="#8c8c8c" stroke-width="1"/>
<line x1="545.40" y1="306.50" x2="545.40" y2="308.30" stroke="#666" stroke-width="0.8"/>
<line x1="572.70" y1="306.50" x2="572.70" y2="308.30" stroke="#666" stroke-width="0.8"/>
<line x1="600.00" y1="306.50" x2="600.00" y2="308.30" stroke="#666" stroke-width="0.8"/>
<line x1="627.30" y1="306.50" x2="627.30" y2="308.30" stroke="#666" stroke-width="0.8"/>
<polyline points="539.1,296.7 550.4,294.3 561.3,289.3 572.2,284.3 583.1,279.9 590.0,278.4 595.0,277.2 599.9,277.9 605.4,279.7 610.8,281.9 616.3,284.8 621.5,287.3 627.2,290.0 632.7,292.3 638.4,294.3 644.1,295.7" fill="none" stroke="#3a3ae0" stroke-width="1.1"/>
<polyline points="539.1,297.2 544.7,287.3 550.4,296.5 555.8,292.8 561.3,286.6 566.7,284.8 572.2,287.8 577.6,294.6 583.1,275.9 588.7,268.8 594.5,273.5 599.9,276.9 605.4,284.6 610.8,279.7 616.3,286.3 621.5,285.6 627.2,290.3 632.7,300.7 638.4,298.7 644.1,304.5" fill="none" stroke="#e03030" stroke-width="1.1"/>
<rect x="490.5" y="314.4" width="38.20" height="117.00" fill="#fff" stroke="#8c8c8c" stroke-width="1"/>
<clipPath id="lc2"><rect x="490.5" y="314.4" width="38.20" height="117.00"/></clipPath>
<g clip-path="url(#lc2)">
<polyline points="523.7,315.1 523.4,323.4 522.1,332.7 519.4,340.7 514.7,348.8 510.7,355.5 508.1,362.1 507.1,368.8 507.3,370.0 509.4,381.4 513.0,388.5 517.3,397.0 520.8,406.9 522.2,415.5 523.2,424.0 523.7,431.1" fill="none" stroke="#3a3ae0" stroke-width="1.0"/>
<polyline points="528.5,315.1 522.8,320.0 521.0,326.7 508.1,332.7 521.0,338.1 524.8,350.1 504.7,356.8 500.7,363.5 495.4,369.5 495.2,370.0 504.5,376.4 505.9,382.1 510.2,384.2 515.8,387.1 520.1,391.3 522.2,397.0 522.7,406.9 520.1,411.2 515.1,418.3 514.4,424.7 527.9,430.4" fill="none" stroke="#1f8a2a" stroke-width="1.5"/>
</g>
<text x="490.98" y="292.3" font-size="13.6" font-style="italic" fill="#1a1a1a">t</text>
<text x="494.44" y="292.3" font-size="13.6" fill="#1a1a1a">=95 s</text>
<path d="M243.2 413.5 H281.8 M248.6 410.1 L242.6 413.5 L248.6 416.9 M276.4 410.1 L282.4 413.5 L276.4 416.9" fill="none" stroke="#fff" stroke-width="1.5" stroke-linecap="round" stroke-linejoin="round"/>
<text x="247.06" y="428.5" font-size="13.0" font-weight="bold" textLength="30.47" lengthAdjust="spacingAndGlyphs" fill="#fff">1 cm</text>
<defs><linearGradient id="jetg" x1="0" y1="1" x2="0" y2="0">
<stop offset="0.0000" stop-color="#000080"/>
<stop offset="0.0625" stop-color="#0000bf"/>
<stop offset="0.1250" stop-color="#0000ff"/>
<stop offset="0.1875" stop-color="#0040ff"/>
<stop offset="0.2500" stop-color="#0080ff"/>
<stop offset="0.3125" stop-color="#00bfff"/>
<stop offset="0.3750" stop-color="#00ffff"/>
<stop offset="0.4375" stop-color="#40ffbf"/>
<stop offset="0.5000" stop-color="#80ff80"/>
<stop offset="0.5625" stop-color="#bfff40"/>
<stop offset="0.6250" stop-color="#ffff00"/>
<stop offset="0.6875" stop-color="#ffbf00"/>
<stop offset="0.7500" stop-color="#ff8000"/>
<stop offset="0.8125" stop-color="#ff4000"/>
<stop offset="0.8750" stop-color="#ff0000"/>
<stop offset="0.9375" stop-color="#bf0000"/>
<stop offset="1.0000" stop-color="#800000"/>
</linearGradient></defs>
<rect x="654.9" y="314.3" width="9.7" height="117.5" fill="url(#jetg)" stroke="#999" stroke-width="0.6"/>
<line x1="662.8" y1="314.80" x2="664.6" y2="314.80" stroke="#777" stroke-width="0.8"/>
<line x1="662.8" y1="334.20" x2="664.6" y2="334.20" stroke="#777" stroke-width="0.8"/>
<line x1="662.8" y1="353.60" x2="664.6" y2="353.60" stroke="#777" stroke-width="0.8"/>
<line x1="662.8" y1="373.00" x2="664.6" y2="373.00" stroke="#777" stroke-width="0.8"/>
<line x1="662.8" y1="392.40" x2="664.6" y2="392.40" stroke="#777" stroke-width="0.8"/>
<line x1="662.8" y1="411.80" x2="664.6" y2="411.80" stroke="#777" stroke-width="0.8"/>
<line x1="662.8" y1="431.20" x2="664.6" y2="431.20" stroke="#777" stroke-width="0.8"/>
<text x="669.98" y="321.3" font-size="13.4" fill="#1a1a1a">12</text>
<text x="669.82" y="357.9" font-size="13.4" fill="#1a1a1a">8</text>
<text x="670.09" y="396.1" font-size="13.4" fill="#1a1a1a">4</text>
<text x="669.88" y="433.0" font-size="13.4" fill="#1a1a1a">0</text>
<text x="655.09" y="298.9" font-size="12.8" textLength="23.82" lengthAdjust="spacingAndGlyphs" fill="#1a1a1a">[°C]</text>
<text x="420.11" y="459.1" font-size="12.6" font-weight="bold" textLength="17.79" lengthAdjust="spacingAndGlyphs" fill="#1a1a1a">(d)</text>
</svg></body></html>
